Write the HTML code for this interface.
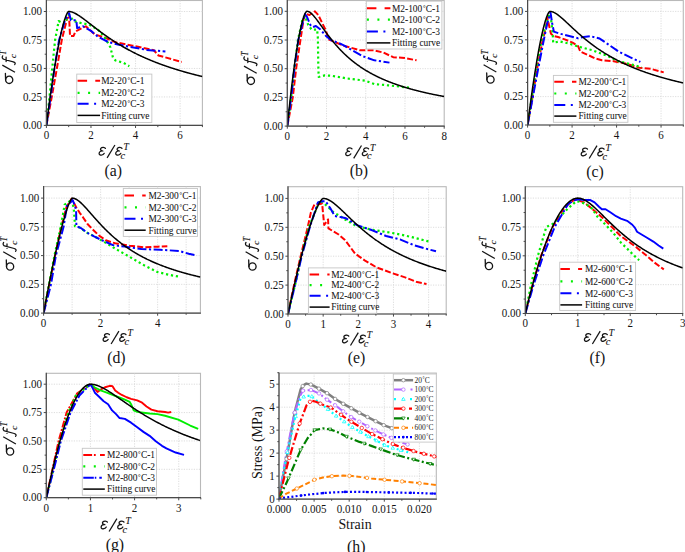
<!DOCTYPE html>
<html><head><meta charset="utf-8"><style>
html,body{margin:0;padding:0;background:#fff;overflow:hidden;}
svg{display:block;font-family:"Liberation Serif",serif;}
.t{font-size:11px;fill:#141414;}
.lg{font-size:9.4px;fill:#141414;stroke:#141414;stroke-width:0.05px;}
</style></head><body>
<svg width="685" height="552" viewBox="0 0 685 552">
<clipPath id="ca"><rect x="46.4" y="0.5" width="156" height="124.9"/></clipPath>
<rect x="46.4" y="0.5" width="156" height="124.9" fill="none" stroke="#b9b9b9" stroke-width="1.1"/>
<line x1="46.4" y1="96.93" x2="202.4" y2="96.93" stroke="#d4d4d4" stroke-width="0.8" stroke-dasharray="1.2 1.3"/>
<line x1="46.4" y1="68.45" x2="202.4" y2="68.45" stroke="#d4d4d4" stroke-width="0.8" stroke-dasharray="1.2 1.3"/>
<line x1="46.4" y1="39.97" x2="202.4" y2="39.97" stroke="#d4d4d4" stroke-width="0.8" stroke-dasharray="1.2 1.3"/>
<line x1="46.4" y1="11.5" x2="202.4" y2="11.5" stroke="#d4d4d4" stroke-width="0.8" stroke-dasharray="1.2 1.3"/>
<line x1="90.97" y1="0.5" x2="90.97" y2="125.4" stroke="#d4d4d4" stroke-width="0.8" stroke-dasharray="1.2 1.3"/>
<line x1="135.54" y1="0.5" x2="135.54" y2="125.4" stroke="#d4d4d4" stroke-width="0.8" stroke-dasharray="1.2 1.3"/>
<line x1="180.11" y1="0.5" x2="180.11" y2="125.4" stroke="#d4d4d4" stroke-width="0.8" stroke-dasharray="1.2 1.3"/>
<polyline points="46.4,125.4 51.75,96.93 56.87,68.45 61.78,39.97 67.13,18.33 69.13,17.2 70.02,35.99 73.59,35.99 75.37,31.55 82.28,28.02 85.85,26.31 94.54,34.28 105.01,37.7 115.49,42.25 132.65,45.67 153.82,50.23 158.5,55.47 181.67,61.96" fill="none" stroke="#ff0000" stroke-width="2.0" stroke-dasharray="6 2.2" stroke-linejoin="round" clip-path="url(#ca)"/>
<polyline points="46.4,125.4 49.52,96.93 52.19,68.45 55.09,39.97 58.66,21.07 64.01,23.8 69.13,14.92 73.59,21.07 80.5,22.89 89.19,24.6 98.1,29.72 105.01,37.7 110.36,47.26 113.03,57.86 115.49,60.48 123.29,62.75 129.3,66.17" fill="none" stroke="#00ee00" stroke-width="2.2" stroke-dasharray="2.2 2.8" stroke-linejoin="round" clip-path="url(#ca)"/>
<polyline points="46.4,125.4 50.63,96.93 54.42,68.45 59.1,39.97 64.9,20.61 69.13,13.21 70.91,20.16 76.26,20.16 77.15,28.02 83.17,26.31 90.97,30.86 98.1,36.9 108.58,42.14 119.05,44.76 146.69,49.88 165.41,51.48" fill="none" stroke="#0000ff" stroke-width="2.0" stroke-dasharray="9 2.5 2.2 2.5" stroke-linejoin="round" clip-path="url(#ca)"/>
<polyline points="46.4,125.4 46.85,121.89 47.29,118.42 47.74,114.98 48.18,111.59 48.63,108.24 49.07,104.93 49.52,101.66 49.97,98.43 50.41,95.24 50.86,92.1 51.3,88.99 51.75,85.94 52.19,82.92 52.64,79.95 53.09,77.03 53.53,74.15 53.98,71.32 54.42,68.53 54.87,65.79 55.31,63.1 55.76,60.46 56.21,57.87 56.65,55.33 57.1,52.84 57.54,50.4 57.99,48.01 58.43,45.68 58.88,43.41 59.33,41.19 59.77,39.02 60.22,36.92 60.66,34.88 61.11,32.9 61.55,30.98 62,29.12 62.45,27.34 62.89,25.62 63.34,23.97 63.78,22.4 64.23,20.9 64.67,19.48 65.12,18.15 65.57,16.91 66.01,15.76 66.46,14.71 66.9,13.77 67.35,12.95 67.79,12.28 68.24,11.76 68.69,11.5 69.13,11.51 69.58,11.55 70.02,11.6 70.47,11.67 70.91,11.77 71.36,11.88 71.81,12 72.25,12.15 72.7,12.3 73.14,12.47 73.59,12.66 74.03,12.85 74.48,13.06 74.93,13.28 75.37,13.51 75.82,13.74 76.26,13.99 76.71,14.24 77.15,14.51 77.6,14.77 78.05,15.05 78.49,15.33 78.94,15.62 79.38,15.91 79.83,16.21 80.27,16.52 80.72,16.82 81.17,17.14 81.61,17.45 82.06,17.77 82.5,18.09 82.95,18.42 83.39,18.75 83.84,19.08 84.29,19.41 84.73,19.75 85.18,20.08 85.62,20.42 86.07,20.76 86.51,21.1 86.96,21.45 87.41,21.79 87.85,22.13 88.3,22.48 88.74,22.83 89.19,23.17 89.63,23.52 90.08,23.87 90.53,24.21 90.97,24.56 91.42,24.91 91.86,25.25 92.31,25.6 92.75,25.94 93.2,26.29 93.65,26.64 94.09,26.98 94.54,27.32 94.98,27.67 95.43,28.01 95.87,28.35 96.32,28.69 96.77,29.03 97.21,29.37 97.66,29.71 98.1,30.05 98.55,30.38 98.99,30.72 99.44,31.05 99.89,31.39 100.33,31.72 100.78,32.05 101.22,32.38 101.67,32.7 102.11,33.03 102.56,33.36 103.01,33.68 103.45,34 103.9,34.32 104.34,34.64 104.79,34.96 105.23,35.28 105.68,35.6 106.13,35.91 106.57,36.22 107.02,36.53 107.46,36.84 107.91,37.15 108.35,37.46 108.8,37.76 109.25,38.07 109.69,38.37 110.14,38.67 110.58,38.97 111.03,39.27 111.47,39.57 111.92,39.86 112.37,40.15 112.81,40.45 113.26,40.74 113.7,41.03 114.15,41.31 114.59,41.6 115.04,41.88 115.49,42.17 115.93,42.45 116.38,42.73 116.82,43.01 117.27,43.28 117.71,43.56 118.16,43.83 118.61,44.11 119.05,44.38 119.5,44.65 119.94,44.92 120.39,45.18 120.83,45.45 121.28,45.71 121.73,45.97 122.17,46.24 122.62,46.5 123.06,46.75 123.51,47.01 123.95,47.27 124.4,47.52 124.85,47.77 125.29,48.02 125.74,48.27 126.18,48.52 126.63,48.77 127.07,49.01 127.52,49.26 127.97,49.5 128.41,49.74 128.86,49.98 129.3,50.22 129.75,50.46 130.19,50.7 130.64,50.93 131.09,51.17 131.53,51.4 131.98,51.63 132.42,51.86 132.87,52.09 133.31,52.32 133.76,52.54 134.21,52.77 134.65,52.99 135.1,53.22 135.54,53.44 135.99,53.66 136.43,53.88 136.88,54.09 137.33,54.31 137.77,54.53 138.22,54.74 138.66,54.95 139.11,55.17 139.55,55.38 140,55.59 140.45,55.79 140.89,56 141.34,56.21 141.78,56.41 142.23,56.62 142.67,56.82 143.12,57.02 143.57,57.22 144.01,57.42 144.46,57.62 144.9,57.82 145.35,58.02 145.79,58.21 146.24,58.41 146.69,58.6 147.13,58.79 147.58,58.98 148.02,59.17 148.47,59.36 148.91,59.55 149.36,59.74 149.81,59.92 150.25,60.11 150.7,60.29 151.14,60.48 151.59,60.66 152.03,60.84 152.48,61.02 152.93,61.2 153.37,61.38 153.82,61.56 154.26,61.74 154.71,61.91 155.15,62.09 155.6,62.26 156.05,62.43 156.49,62.61 156.94,62.78 157.38,62.95 157.83,63.12 158.27,63.29 158.72,63.46 159.17,63.62 159.61,63.79 160.06,63.95 160.5,64.12 160.95,64.28 161.39,64.45 161.84,64.61 162.29,64.77 162.73,64.93 163.18,65.09 163.62,65.25 164.07,65.41 164.51,65.56 164.96,65.72 165.41,65.88 165.85,66.03 166.3,66.19 166.74,66.34 167.19,66.49 167.63,66.65 168.08,66.8 168.53,66.95 168.97,67.1 169.42,67.25 169.86,67.39 170.31,67.54 170.75,67.69 171.2,67.84 171.65,67.98 172.09,68.13 172.54,68.27 172.98,68.41 173.43,68.56 173.87,68.7 174.32,68.84 174.77,68.98 175.21,69.12 175.66,69.26 176.1,69.4 176.55,69.54 176.99,69.67 177.44,69.81 177.89,69.95 178.33,70.08 178.78,70.22 179.22,70.35 179.67,70.49 180.11,70.62 180.56,70.75 181.01,70.88 181.45,71.01 181.9,71.14 182.34,71.27 182.79,71.4 183.23,71.53 183.68,71.66 184.13,71.79 184.57,71.92 185.02,72.04 185.46,72.17 185.91,72.29 186.35,72.42 186.8,72.54 187.25,72.67 187.69,72.79 188.14,72.91 188.58,73.03 189.03,73.15 189.47,73.27 189.92,73.4 190.37,73.51 190.81,73.63 191.26,73.75 191.7,73.87 192.15,73.99 192.59,74.11 193.04,74.22 193.49,74.34 193.93,74.45 194.38,74.57 194.82,74.68 195.27,74.8 195.71,74.91 196.16,75.02 196.61,75.14 197.05,75.25 197.5,75.36 197.94,75.47 198.39,75.58 198.83,75.69 199.28,75.8 199.73,75.91 200.17,76.02 200.62,76.13 201.06,76.24 201.51,76.34 201.95,76.45 202.4,76.56" fill="none" stroke="#000000" stroke-width="1.5" stroke-linejoin="round" clip-path="url(#ca)"/>
<line x1="46.4" y1="0" x2="46.4" y2="126" stroke="#4a4a4a" stroke-width="1.2"/>
<line x1="45.8" y1="125.4" x2="202.9" y2="125.4" stroke="#4a4a4a" stroke-width="1.2"/>
<line x1="43.8" y1="125.4" x2="46.4" y2="125.4" stroke="#4a4a4a" stroke-width="1"/>
<text transform="translate(42.1,129.1) scale(1,1.07)" text-anchor="end" class="t">0.00</text>
<line x1="43.8" y1="96.93" x2="46.4" y2="96.93" stroke="#4a4a4a" stroke-width="1"/>
<text transform="translate(42.1,100.63) scale(1,1.07)" text-anchor="end" class="t">0.25</text>
<line x1="43.8" y1="68.45" x2="46.4" y2="68.45" stroke="#4a4a4a" stroke-width="1"/>
<text transform="translate(42.1,72.15) scale(1,1.07)" text-anchor="end" class="t">0.50</text>
<line x1="43.8" y1="39.97" x2="46.4" y2="39.97" stroke="#4a4a4a" stroke-width="1"/>
<text transform="translate(42.1,43.67) scale(1,1.07)" text-anchor="end" class="t">0.75</text>
<line x1="43.8" y1="11.5" x2="46.4" y2="11.5" stroke="#4a4a4a" stroke-width="1"/>
<text transform="translate(42.1,15.2) scale(1,1.07)" text-anchor="end" class="t">1.00</text>
<line x1="44.7" y1="111.16" x2="46.4" y2="111.16" stroke="#4a4a4a" stroke-width="1"/>
<line x1="44.7" y1="82.69" x2="46.4" y2="82.69" stroke="#4a4a4a" stroke-width="1"/>
<line x1="44.7" y1="54.21" x2="46.4" y2="54.21" stroke="#4a4a4a" stroke-width="1"/>
<line x1="44.7" y1="25.74" x2="46.4" y2="25.74" stroke="#4a4a4a" stroke-width="1"/>
<line x1="46.4" y1="125.4" x2="46.4" y2="128" stroke="#4a4a4a" stroke-width="1"/>
<text transform="translate(46.4,139.3) scale(1,1.07)" text-anchor="middle" class="t">0</text>
<line x1="90.97" y1="125.4" x2="90.97" y2="128" stroke="#4a4a4a" stroke-width="1"/>
<text transform="translate(90.97,139.3) scale(1,1.07)" text-anchor="middle" class="t">2</text>
<line x1="135.54" y1="125.4" x2="135.54" y2="128" stroke="#4a4a4a" stroke-width="1"/>
<text transform="translate(135.54,139.3) scale(1,1.07)" text-anchor="middle" class="t">4</text>
<line x1="180.11" y1="125.4" x2="180.11" y2="128" stroke="#4a4a4a" stroke-width="1"/>
<text transform="translate(180.11,139.3) scale(1,1.07)" text-anchor="middle" class="t">6</text>
<line x1="68.69" y1="125.4" x2="68.69" y2="127.1" stroke="#4a4a4a" stroke-width="1"/>
<line x1="113.26" y1="125.4" x2="113.26" y2="127.1" stroke="#4a4a4a" stroke-width="1"/>
<line x1="157.83" y1="125.4" x2="157.83" y2="127.1" stroke="#4a4a4a" stroke-width="1"/>
<line x1="202.4" y1="125.4" x2="202.4" y2="127.1" stroke="#4a4a4a" stroke-width="1"/>
<rect x="76.75" y="74.1" width="75.1" height="48.4" fill="#ffffff" stroke="#c6c6c6" stroke-width="0.9"/>
<polyline points="77.6,80.8 100.1,80.8" fill="none" stroke="#ff0000" stroke-width="2.0" stroke-dasharray="9.5 8.2" stroke-linejoin="round"/>
<text transform="translate(101.2,84.1) scale(1,1.08)" class="lg">M2-20<tspan font-size="6.58" dy="-1.79" dx="0.66">°</tspan><tspan dy="1.79" dx="0.28">C-1</tspan></text>
<polyline points="77.6,92.8 100.1,92.8" fill="none" stroke="#00ee00" stroke-width="2.2" stroke-dasharray="2 8.5" stroke-linejoin="round"/>
<text transform="translate(101.2,96.1) scale(1,1.08)" class="lg">M2-20<tspan font-size="6.58" dy="-1.79" dx="0.66">°</tspan><tspan dy="1.79" dx="0.28">C-2</tspan></text>
<polyline points="77.6,103.8 100.1,103.8" fill="none" stroke="#0000ff" stroke-width="2.0" stroke-dasharray="11 5.5 2 5" stroke-linejoin="round"/>
<text transform="translate(101.2,107.1) scale(1,1.08)" class="lg">M2-20<tspan font-size="6.58" dy="-1.79" dx="0.66">°</tspan><tspan dy="1.79" dx="0.28">C-3</tspan></text>
<polyline points="77.6,115.4 100.1,115.4" fill="none" stroke="#000000" stroke-width="1.5" stroke-linejoin="round"/>
<text transform="translate(101.2,118.7) scale(1,1.08)" class="lg">Fitting curve</text>
<g transform="translate(98.4,155.2)"><path transform="translate(0,0)" d="M7.0,-6.8 C6.4,-8.0 3.6,-8.3 2.4,-6.9 C1.6,-5.9 2.2,-4.4 4.5,-4.2 M3.6,-4.2 C1.8,-4.0 0.7,-3.0 0.7,-1.7 C0.7,-0.3 2.2,0.2 3.4,-0.2 C4.4,-0.5 5.2,-1.1 5.8,-1.9" fill="none" stroke="#141414" stroke-width="1.25" stroke-linecap="round"/><line x1="8.7" y1="2.6" x2="16.5" y2="-10.2" stroke="#141414" stroke-width="1.25"/><path transform="translate(16.6,0)" d="M7.0,-6.8 C6.4,-8.0 3.6,-8.3 2.4,-6.9 C1.6,-5.9 2.2,-4.4 4.5,-4.2 M3.6,-4.2 C1.8,-4.0 0.7,-3.0 0.7,-1.7 C0.7,-0.3 2.2,0.2 3.4,-0.2 C4.4,-0.5 5.2,-1.1 5.8,-1.9" fill="none" stroke="#141414" stroke-width="1.25" stroke-linecap="round"/><text transform="translate(21.99,3.6) scale(0.996,1)" font-size="10.42" font-style="italic" fill="#141414" stroke="#141414" stroke-width="0.12">c</text><text transform="translate(24.99,-5.2) scale(0.968,1)" font-size="9.77" font-style="italic" fill="#141414" stroke="#141414" stroke-width="0.12">T</text></g>
<g transform="translate(13.1,84.2) rotate(-90)"><ellipse cx="4.4" cy="-3.9" rx="3.7" ry="3.6" fill="none" stroke="#141414" stroke-width="1.3"/><path d="M4.4,-7.5 L10.9,-7.7" fill="none" stroke="#141414" stroke-width="1.3" stroke-linecap="round"/><line x1="11.9" y1="1.9" x2="19.1" y2="-10.8" stroke="#141414" stroke-width="1.25"/><path d="M19.6,1.6 C20.8,2.8 21.9,1.8 22.4,0.2 L24.7,-8.6 C25.3,-10.8 27.0,-11.5 28.4,-10.4 M22.6,-7.0 L27.0,-7.0" fill="none" stroke="#141414" stroke-width="1.25" stroke-linecap="round"/><text transform="translate(25.9,2.71) scale(1.077,1)" font-size="9.17" font-style="italic" fill="#141414" stroke="#141414" stroke-width="0.12">c</text><text transform="translate(29.28,-6.8) scale(0.819,1)" font-size="9.77" font-style="italic" fill="#141414" stroke="#141414" stroke-width="0.12">T</text></g>
<text x="113.25" y="176.2" text-anchor="middle" font-size="15.8" fill="#141414">(a)</text>
<clipPath id="cb"><rect x="287.3" y="0.5" width="156.9" height="125.6"/></clipPath>
<rect x="287.3" y="0.5" width="156.9" height="125.6" fill="none" stroke="#b9b9b9" stroke-width="1.1"/>
<line x1="287.3" y1="97.4" x2="444.2" y2="97.4" stroke="#d4d4d4" stroke-width="0.8" stroke-dasharray="1.2 1.3"/>
<line x1="287.3" y1="68.7" x2="444.2" y2="68.7" stroke="#d4d4d4" stroke-width="0.8" stroke-dasharray="1.2 1.3"/>
<line x1="287.3" y1="40" x2="444.2" y2="40" stroke="#d4d4d4" stroke-width="0.8" stroke-dasharray="1.2 1.3"/>
<line x1="287.3" y1="11.3" x2="444.2" y2="11.3" stroke="#d4d4d4" stroke-width="0.8" stroke-dasharray="1.2 1.3"/>
<line x1="326.52" y1="0.5" x2="326.52" y2="126.1" stroke="#d4d4d4" stroke-width="0.8" stroke-dasharray="1.2 1.3"/>
<line x1="365.75" y1="0.5" x2="365.75" y2="126.1" stroke="#d4d4d4" stroke-width="0.8" stroke-dasharray="1.2 1.3"/>
<line x1="404.98" y1="0.5" x2="404.98" y2="126.1" stroke="#d4d4d4" stroke-width="0.8" stroke-dasharray="1.2 1.3"/>
<polyline points="287.3,126.1 292.79,97.4 296.13,68.7 300.44,40 303.77,18.19 305.93,13.94 309.46,14.97 314.95,11.3 318.29,14.97 322.6,23.93 325.94,30.47 328.29,39.31 343.78,45.74 360.06,50.33 374.38,50.33 383.6,52.63 393.21,57.22 404.78,58.02 416.55,60.32" fill="none" stroke="#ff0000" stroke-width="2.0" stroke-dasharray="6 2.2" stroke-linejoin="round" clip-path="url(#cb)"/>
<polyline points="287.3,126.1 291.22,97.4 294.36,68.7 297.89,40 302.79,18.19 304.95,15.89 308.29,25.08 311.62,29.67 317.11,29.67 317.9,38.28 318.29,64.8 318.68,76.97 324.76,75.36 331.62,75.82 342.61,77.65 346.14,78.34 364.77,80.64 374.38,84.08 388.3,85.35 409.49,87.64" fill="none" stroke="#00ee00" stroke-width="2.2" stroke-dasharray="2.2 2.8" stroke-linejoin="round" clip-path="url(#cb)"/>
<polyline points="287.3,126.1 291.22,97.4 294.36,68.7 298.28,40 304.95,13.94 307.11,17.15 310.44,25.08 312.8,27.14 315.93,25.99 320.45,29.44 325.94,35.98 331.62,40.34 340.25,43.67 344.76,45.97 362.61,56.19 374.38,60.32 389.48,62.62" fill="none" stroke="#0000ff" stroke-width="2.0" stroke-dasharray="9 2.5 2.2 2.5" stroke-linejoin="round" clip-path="url(#cb)"/>
<polyline points="287.3,126.1 287.69,122.29 288.08,118.53 288.48,114.83 288.87,111.18 289.26,107.58 289.65,104.03 290.05,100.54 290.44,97.1 290.83,93.72 291.22,90.39 291.61,87.11 292.01,83.89 292.4,80.73 292.79,77.63 293.18,74.58 293.58,71.59 293.97,68.66 294.36,65.78 294.75,62.97 295.14,60.22 295.54,57.52 295.93,54.89 296.32,52.32 296.71,49.82 297.11,47.38 297.5,45 297.89,42.69 298.28,40.44 298.68,38.26 299.07,36.15 299.46,34.11 299.85,32.14 300.24,30.25 300.64,28.42 301.03,26.67 301.42,25 301.81,23.4 302.21,21.89 302.6,20.46 302.99,19.11 303.38,17.85 303.77,16.68 304.17,15.61 304.56,14.63 304.95,13.75 305.34,12.99 305.74,12.35 306.13,11.83 306.52,11.47 306.91,11.3 307.3,11.32 307.7,11.38 308.09,11.48 308.48,11.62 308.87,11.79 309.27,11.99 309.66,12.22 310.05,12.48 310.44,12.76 310.84,13.07 311.23,13.4 311.62,13.75 312.01,14.12 312.4,14.51 312.8,14.92 313.19,15.34 313.58,15.77 313.97,16.22 314.37,16.68 314.76,17.15 315.15,17.63 315.54,18.12 315.93,18.62 316.33,19.13 316.72,19.64 317.11,20.16 317.5,20.68 317.9,21.21 318.29,21.74 318.68,22.28 319.07,22.82 319.46,23.36 319.86,23.9 320.25,24.45 320.64,25 321.03,25.54 321.43,26.09 321.82,26.64 322.21,27.19 322.6,27.74 322.99,28.28 323.39,28.83 323.78,29.38 324.17,29.92 324.56,30.46 324.96,31 325.35,31.54 325.74,32.08 326.13,32.61 326.52,33.14 326.92,33.67 327.31,34.2 327.7,34.72 328.09,35.25 328.49,35.76 328.88,36.28 329.27,36.79 329.66,37.3 330.06,37.81 330.45,38.31 330.84,38.81 331.23,39.3 331.62,39.79 332.02,40.28 332.41,40.77 332.8,41.25 333.19,41.73 333.59,42.2 333.98,42.67 334.37,43.14 334.76,43.61 335.15,44.07 335.55,44.52 335.94,44.98 336.33,45.43 336.72,45.87 337.12,46.31 337.51,46.75 337.9,47.19 338.29,47.62 338.68,48.05 339.08,48.47 339.47,48.89 339.86,49.31 340.25,49.72 340.65,50.13 341.04,50.54 341.43,50.94 341.82,51.34 342.22,51.74 342.61,52.13 343,52.52 343.39,52.91 343.78,53.29 344.18,53.67 344.57,54.05 344.96,54.42 345.35,54.79 345.75,55.16 346.14,55.53 346.53,55.89 346.92,56.25 347.31,56.6 347.71,56.95 348.1,57.3 348.49,57.65 348.88,57.99 349.28,58.33 349.67,58.67 350.06,59 350.45,59.33 350.84,59.66 351.24,59.99 351.63,60.31 352.02,60.63 352.41,60.95 352.81,61.26 353.2,61.57 353.59,61.88 353.98,62.19 354.37,62.49 354.77,62.79 355.16,63.09 355.55,63.39 355.94,63.68 356.34,63.98 356.73,64.27 357.12,64.55 357.51,64.84 357.9,65.12 358.3,65.4 358.69,65.68 359.08,65.95 359.47,66.22 359.87,66.5 360.26,66.76 360.65,67.03 361.04,67.29 361.44,67.56 361.83,67.82 362.22,68.07 362.61,68.33 363,68.58 363.4,68.84 363.79,69.09 364.18,69.33 364.57,69.58 364.97,69.82 365.36,70.06 365.75,70.3 366.14,70.54 366.53,70.78 366.93,71.01 367.32,71.25 367.71,71.48 368.1,71.7 368.5,71.93 368.89,72.16 369.28,72.38 369.67,72.6 370.06,72.82 370.46,73.04 370.85,73.26 371.24,73.47 371.63,73.69 372.03,73.9 372.42,74.11 372.81,74.32 373.2,74.53 373.6,74.73 373.99,74.94 374.38,75.14 374.77,75.34 375.16,75.54 375.56,75.74 375.95,75.93 376.34,76.13 376.73,76.32 377.13,76.52 377.52,76.71 377.91,76.9 378.3,77.08 378.69,77.27 379.09,77.46 379.48,77.64 379.87,77.82 380.26,78.01 380.66,78.19 381.05,78.36 381.44,78.54 381.83,78.72 382.22,78.89 382.62,79.07 383.01,79.24 383.4,79.41 383.79,79.58 384.19,79.75 384.58,79.92 384.97,80.09 385.36,80.25 385.75,80.42 386.15,80.58 386.54,80.74 386.93,80.91 387.32,81.07 387.72,81.22 388.11,81.38 388.5,81.54 388.89,81.7 389.28,81.85 389.68,82 390.07,82.16 390.46,82.31 390.85,82.46 391.25,82.61 391.64,82.76 392.03,82.91 392.42,83.05 392.82,83.2 393.21,83.34 393.6,83.49 393.99,83.63 394.38,83.77 394.78,83.92 395.17,84.06 395.56,84.2 395.95,84.33 396.35,84.47 396.74,84.61 397.13,84.74 397.52,84.88 397.91,85.01 398.31,85.15 398.7,85.28 399.09,85.41 399.48,85.54 399.88,85.67 400.27,85.8 400.66,85.93 401.05,86.06 401.44,86.19 401.84,86.31 402.23,86.44 402.62,86.56 403.01,86.69 403.41,86.81 403.8,86.93 404.19,87.05 404.58,87.17 404.98,87.29 405.37,87.41 405.76,87.53 406.15,87.65 406.54,87.77 406.94,87.88 407.33,88 407.72,88.12 408.11,88.23 408.51,88.34 408.9,88.46 409.29,88.57 409.68,88.68 410.07,88.79 410.47,88.91 410.86,89.02 411.25,89.12 411.64,89.23 412.04,89.34 412.43,89.45 412.82,89.56 413.21,89.66 413.6,89.77 414,89.87 414.39,89.98 414.78,90.08 415.17,90.19 415.57,90.29 415.96,90.39 416.35,90.49 416.74,90.59 417.13,90.69 417.53,90.79 417.92,90.89 418.31,90.99 418.7,91.09 419.1,91.19 419.49,91.29 419.88,91.38 420.27,91.48 420.66,91.57 421.06,91.67 421.45,91.76 421.84,91.86 422.23,91.95 422.63,92.05 423.02,92.14 423.41,92.23 423.8,92.32 424.2,92.41 424.59,92.5 424.98,92.59 425.37,92.68 425.76,92.77 426.16,92.86 426.55,92.95 426.94,93.04 427.33,93.13 427.73,93.21 428.12,93.3 428.51,93.39 428.9,93.47 429.29,93.56 429.69,93.64 430.08,93.73 430.47,93.81 430.86,93.89 431.26,93.98 431.65,94.06 432.04,94.14 432.43,94.22 432.82,94.31 433.22,94.39 433.61,94.47 434,94.55 434.39,94.63 434.79,94.71 435.18,94.79 435.57,94.87 435.96,94.94 436.36,95.02 436.75,95.1 437.14,95.18 437.53,95.25 437.92,95.33 438.32,95.41 438.71,95.48 439.1,95.56 439.49,95.63 439.89,95.71 440.28,95.78 440.67,95.85 441.06,95.93 441.45,96 441.85,96.07 442.24,96.15 442.63,96.22 443.02,96.29 443.42,96.36 443.81,96.43 444.2,96.5" fill="none" stroke="#000000" stroke-width="1.5" stroke-linejoin="round" clip-path="url(#cb)"/>
<line x1="287.3" y1="0" x2="287.3" y2="126.7" stroke="#4a4a4a" stroke-width="1.2"/>
<line x1="286.7" y1="126.1" x2="444.7" y2="126.1" stroke="#4a4a4a" stroke-width="1.2"/>
<line x1="284.7" y1="126.1" x2="287.3" y2="126.1" stroke="#4a4a4a" stroke-width="1"/>
<text transform="translate(283,129.8) scale(1,1.07)" text-anchor="end" class="t">0.00</text>
<line x1="284.7" y1="97.4" x2="287.3" y2="97.4" stroke="#4a4a4a" stroke-width="1"/>
<text transform="translate(283,101.1) scale(1,1.07)" text-anchor="end" class="t">0.25</text>
<line x1="284.7" y1="68.7" x2="287.3" y2="68.7" stroke="#4a4a4a" stroke-width="1"/>
<text transform="translate(283,72.4) scale(1,1.07)" text-anchor="end" class="t">0.50</text>
<line x1="284.7" y1="40" x2="287.3" y2="40" stroke="#4a4a4a" stroke-width="1"/>
<text transform="translate(283,43.7) scale(1,1.07)" text-anchor="end" class="t">0.75</text>
<line x1="284.7" y1="11.3" x2="287.3" y2="11.3" stroke="#4a4a4a" stroke-width="1"/>
<text transform="translate(283,15) scale(1,1.07)" text-anchor="end" class="t">1.00</text>
<line x1="285.6" y1="111.75" x2="287.3" y2="111.75" stroke="#4a4a4a" stroke-width="1"/>
<line x1="285.6" y1="83.05" x2="287.3" y2="83.05" stroke="#4a4a4a" stroke-width="1"/>
<line x1="285.6" y1="54.35" x2="287.3" y2="54.35" stroke="#4a4a4a" stroke-width="1"/>
<line x1="285.6" y1="25.65" x2="287.3" y2="25.65" stroke="#4a4a4a" stroke-width="1"/>
<line x1="287.3" y1="126.1" x2="287.3" y2="128.7" stroke="#4a4a4a" stroke-width="1"/>
<text transform="translate(287.3,140) scale(1,1.07)" text-anchor="middle" class="t">0</text>
<line x1="326.52" y1="126.1" x2="326.52" y2="128.7" stroke="#4a4a4a" stroke-width="1"/>
<text transform="translate(326.52,140) scale(1,1.07)" text-anchor="middle" class="t">2</text>
<line x1="365.75" y1="126.1" x2="365.75" y2="128.7" stroke="#4a4a4a" stroke-width="1"/>
<text transform="translate(365.75,140) scale(1,1.07)" text-anchor="middle" class="t">4</text>
<line x1="404.98" y1="126.1" x2="404.98" y2="128.7" stroke="#4a4a4a" stroke-width="1"/>
<text transform="translate(404.98,140) scale(1,1.07)" text-anchor="middle" class="t">6</text>
<line x1="444.2" y1="126.1" x2="444.2" y2="128.7" stroke="#4a4a4a" stroke-width="1"/>
<text transform="translate(444.2,140) scale(1,1.07)" text-anchor="middle" class="t">8</text>
<line x1="306.91" y1="126.1" x2="306.91" y2="127.8" stroke="#4a4a4a" stroke-width="1"/>
<line x1="346.14" y1="126.1" x2="346.14" y2="127.8" stroke="#4a4a4a" stroke-width="1"/>
<line x1="385.36" y1="126.1" x2="385.36" y2="127.8" stroke="#4a4a4a" stroke-width="1"/>
<line x1="424.59" y1="126.1" x2="424.59" y2="127.8" stroke="#4a4a4a" stroke-width="1"/>
<rect x="366.3" y="1.2" width="75.6" height="47.8" fill="#ffffff" stroke="#c6c6c6" stroke-width="0.9"/>
<polyline points="366.9,8.3 390.4,8.3" fill="none" stroke="#ff0000" stroke-width="2.0" stroke-dasharray="9.5 8.2" stroke-linejoin="round"/>
<text transform="translate(392,11.6) scale(1,1.08)" class="lg">M2-100<tspan font-size="6.58" dy="-1.79" dx="0.66">°</tspan><tspan dy="1.79" dx="0.28">C-1</tspan></text>
<polyline points="366.9,19.6 390.4,19.6" fill="none" stroke="#00ee00" stroke-width="2.2" stroke-dasharray="2 8.5" stroke-linejoin="round"/>
<text transform="translate(392,22.9) scale(1,1.08)" class="lg">M2-100<tspan font-size="6.58" dy="-1.79" dx="0.66">°</tspan><tspan dy="1.79" dx="0.28">C-2</tspan></text>
<polyline points="366.9,31.5 390.4,31.5" fill="none" stroke="#0000ff" stroke-width="2.0" stroke-dasharray="11 5.5 2 5" stroke-linejoin="round"/>
<text transform="translate(392,34.8) scale(1,1.08)" class="lg">M2-100<tspan font-size="6.58" dy="-1.79" dx="0.66">°</tspan><tspan dy="1.79" dx="0.28">C-3</tspan></text>
<polyline points="366.9,42.9 390.4,42.9" fill="none" stroke="#000000" stroke-width="1.5" stroke-linejoin="round"/>
<text transform="translate(392,46.2) scale(1,1.08)" class="lg">Fitting curve</text>
<g transform="translate(345,155.7)"><path transform="translate(0,0)" d="M7.0,-6.8 C6.4,-8.0 3.6,-8.3 2.4,-6.9 C1.6,-5.9 2.2,-4.4 4.5,-4.2 M3.6,-4.2 C1.8,-4.0 0.7,-3.0 0.7,-1.7 C0.7,-0.3 2.2,0.2 3.4,-0.2 C4.4,-0.5 5.2,-1.1 5.8,-1.9" fill="none" stroke="#141414" stroke-width="1.25" stroke-linecap="round"/><line x1="8.7" y1="2.6" x2="16.5" y2="-10.2" stroke="#141414" stroke-width="1.25"/><path transform="translate(16.6,0)" d="M7.0,-6.8 C6.4,-8.0 3.6,-8.3 2.4,-6.9 C1.6,-5.9 2.2,-4.4 4.5,-4.2 M3.6,-4.2 C1.8,-4.0 0.7,-3.0 0.7,-1.7 C0.7,-0.3 2.2,0.2 3.4,-0.2 C4.4,-0.5 5.2,-1.1 5.8,-1.9" fill="none" stroke="#141414" stroke-width="1.25" stroke-linecap="round"/><text transform="translate(21.99,3.6) scale(0.996,1)" font-size="10.42" font-style="italic" fill="#141414" stroke="#141414" stroke-width="0.12">c</text><text transform="translate(24.99,-5.2) scale(0.968,1)" font-size="9.77" font-style="italic" fill="#141414" stroke="#141414" stroke-width="0.12">T</text></g>
<g transform="translate(254.8,85.2) rotate(-90)"><ellipse cx="4.4" cy="-3.9" rx="3.7" ry="3.6" fill="none" stroke="#141414" stroke-width="1.3"/><path d="M4.4,-7.5 L10.9,-7.7" fill="none" stroke="#141414" stroke-width="1.3" stroke-linecap="round"/><line x1="11.9" y1="1.9" x2="19.1" y2="-10.8" stroke="#141414" stroke-width="1.25"/><path d="M19.6,1.6 C20.8,2.8 21.9,1.8 22.4,0.2 L24.7,-8.6 C25.3,-10.8 27.0,-11.5 28.4,-10.4 M22.6,-7.0 L27.0,-7.0" fill="none" stroke="#141414" stroke-width="1.25" stroke-linecap="round"/><text transform="translate(25.9,2.71) scale(1.077,1)" font-size="9.17" font-style="italic" fill="#141414" stroke="#141414" stroke-width="0.12">c</text><text transform="translate(29.28,-6.8) scale(0.819,1)" font-size="9.77" font-style="italic" fill="#141414" stroke="#141414" stroke-width="0.12">T</text></g>
<text x="358.9" y="176.3" text-anchor="middle" font-size="15.8" fill="#141414">(b)</text>
<clipPath id="cc"><rect x="527.6" y="0.5" width="155.7" height="124.5"/></clipPath>
<rect x="527.6" y="0.5" width="155.7" height="124.5" fill="none" stroke="#b9b9b9" stroke-width="1.1"/>
<line x1="527.6" y1="96.6" x2="683.3" y2="96.6" stroke="#d4d4d4" stroke-width="0.8" stroke-dasharray="1.2 1.3"/>
<line x1="527.6" y1="68.2" x2="683.3" y2="68.2" stroke="#d4d4d4" stroke-width="0.8" stroke-dasharray="1.2 1.3"/>
<line x1="527.6" y1="39.8" x2="683.3" y2="39.8" stroke="#d4d4d4" stroke-width="0.8" stroke-dasharray="1.2 1.3"/>
<line x1="527.6" y1="11.4" x2="683.3" y2="11.4" stroke="#d4d4d4" stroke-width="0.8" stroke-dasharray="1.2 1.3"/>
<line x1="572.09" y1="0.5" x2="572.09" y2="125" stroke="#d4d4d4" stroke-width="0.8" stroke-dasharray="1.2 1.3"/>
<line x1="616.57" y1="0.5" x2="616.57" y2="125" stroke="#d4d4d4" stroke-width="0.8" stroke-dasharray="1.2 1.3"/>
<line x1="661.06" y1="0.5" x2="661.06" y2="125" stroke="#d4d4d4" stroke-width="0.8" stroke-dasharray="1.2 1.3"/>
<polyline points="527.6,125 532.05,100.01 537.16,68.2 542.73,39.8 546.06,27.08 547.17,17.19 550.96,33.78 553.85,36.05 558.07,37.07 564.75,39.35 572.53,42.64 578.09,46.05 580.32,51.5 587.88,54.91 595,58.43 601.89,60.25 613.68,61.16 625.25,63.54 639.26,67.75 650.83,68.88 663.73,72.4" fill="none" stroke="#ff0000" stroke-width="2.0" stroke-dasharray="6 2.2" stroke-linejoin="round" clip-path="url(#cc)"/>
<polyline points="527.6,125 536.5,68.2 541.61,39.8 549.4,13.9 550.96,18.22 552.73,33.78 553.18,42.64 560.3,41.5 569.19,43.66 580.32,47.07 592.55,50.25 606.56,55.59 618.35,61.16 627.69,63.54 641.71,67.29" fill="none" stroke="#00ee00" stroke-width="2.2" stroke-dasharray="2.2 2.8" stroke-linejoin="round" clip-path="url(#cc)"/>
<polyline points="527.6,125 538.28,68.2 543.84,39.8 547.17,23.78 550.51,12.65 552.07,22.76 553.85,31.62 560.3,33.78 569.19,36.05 578.09,38.21 583.65,37.07 590.32,36.16 599.67,38.55 606.56,43.21 618.35,51.39 629.92,57.18 640.37,61.95" fill="none" stroke="#0000ff" stroke-width="2.0" stroke-dasharray="9 2.5 2.2 2.5" stroke-linejoin="round" clip-path="url(#cc)"/>
<polyline points="527.6,125 528.04,121.5 528.49,118.03 528.93,114.61 529.38,111.23 529.82,107.88 530.27,104.58 530.71,101.32 531.16,98.1 531.6,94.92 532.05,91.78 532.49,88.69 532.94,85.64 533.38,82.63 533.83,79.67 534.27,76.76 534.72,73.88 535.16,71.06 535.61,68.28 536.05,65.55 536.5,62.87 536.94,60.23 537.39,57.65 537.83,55.11 538.28,52.63 538.72,50.2 539.17,47.82 539.61,45.49 540.06,43.22 540.5,41.01 540.95,38.85 541.39,36.75 541.84,34.72 542.28,32.74 542.73,30.82 543.17,28.98 543.61,27.19 544.06,25.48 544.5,23.84 544.95,22.27 545.39,20.78 545.84,19.36 546.28,18.03 546.73,16.79 547.17,15.65 547.62,14.6 548.06,13.67 548.51,12.85 548.95,12.17 549.4,11.66 549.84,11.4 550.29,11.41 550.73,11.46 551.18,11.53 551.62,11.62 552.07,11.74 552.51,11.88 552.96,12.04 553.4,12.22 553.85,12.42 554.29,12.64 554.74,12.87 555.18,13.12 555.63,13.38 556.07,13.66 556.52,13.94 556.96,14.24 557.41,14.55 557.85,14.87 558.3,15.2 558.74,15.54 559.18,15.89 559.63,16.24 560.07,16.6 560.52,16.97 560.96,17.34 561.41,17.72 561.85,18.1 562.3,18.49 562.74,18.88 563.19,19.27 563.63,19.67 564.08,20.07 564.52,20.48 564.97,20.89 565.41,21.29 565.86,21.7 566.3,22.12 566.75,22.53 567.19,22.95 567.64,23.36 568.08,23.78 568.53,24.2 568.97,24.61 569.42,25.03 569.86,25.45 570.31,25.87 570.75,26.28 571.2,26.7 571.64,27.12 572.09,27.53 572.53,27.95 572.98,28.36 573.42,28.77 573.87,29.18 574.31,29.6 574.75,30 575.2,30.41 575.64,30.82 576.09,31.23 576.53,31.63 576.98,32.03 577.42,32.43 577.87,32.83 578.31,33.23 578.76,33.62 579.2,34.02 579.65,34.41 580.09,34.8 580.54,35.19 580.98,35.57 581.43,35.96 581.87,36.34 582.32,36.72 582.76,37.1 583.21,37.47 583.65,37.85 584.1,38.22 584.54,38.59 584.99,38.96 585.43,39.32 585.88,39.69 586.32,40.05 586.77,40.41 587.21,40.76 587.66,41.12 588.1,41.47 588.55,41.82 588.99,42.17 589.44,42.52 589.88,42.86 590.32,43.2 590.77,43.54 591.21,43.88 591.66,44.22 592.1,44.55 592.55,44.88 592.99,45.21 593.44,45.54 593.88,45.86 594.33,46.18 594.77,46.5 595.22,46.82 595.66,47.14 596.11,47.45 596.55,47.77 597,48.08 597.44,48.39 597.89,48.69 598.33,49 598.78,49.3 599.22,49.6 599.67,49.9 600.11,50.19 600.56,50.49 601,50.78 601.45,51.07 601.89,51.36 602.34,51.65 602.78,51.93 603.23,52.21 603.67,52.5 604.12,52.77 604.56,53.05 605.01,53.33 605.45,53.6 605.89,53.87 606.34,54.14 606.78,54.41 607.23,54.68 607.67,54.94 608.12,55.21 608.56,55.47 609.01,55.73 609.45,55.99 609.9,56.24 610.34,56.5 610.79,56.75 611.23,57 611.68,57.25 612.12,57.5 612.57,57.74 613.01,57.99 613.46,58.23 613.9,58.47 614.35,58.71 614.79,58.95 615.24,59.19 615.68,59.42 616.13,59.66 616.57,59.89 617.02,60.12 617.46,60.35 617.91,60.58 618.35,60.8 618.8,61.03 619.24,61.25 619.69,61.48 620.13,61.7 620.58,61.92 621.02,62.13 621.46,62.35 621.91,62.57 622.35,62.78 622.8,62.99 623.24,63.2 623.69,63.41 624.13,63.62 624.58,63.83 625.02,64.03 625.47,64.24 625.91,64.44 626.36,64.64 626.8,64.85 627.25,65.05 627.69,65.24 628.14,65.44 628.58,65.64 629.03,65.83 629.47,66.03 629.92,66.22 630.36,66.41 630.81,66.6 631.25,66.79 631.7,66.98 632.14,67.16 632.59,67.35 633.03,67.53 633.48,67.72 633.92,67.9 634.37,68.08 634.81,68.26 635.26,68.44 635.7,68.62 636.15,68.79 636.59,68.97 637.03,69.14 637.48,69.32 637.92,69.49 638.37,69.66 638.81,69.83 639.26,70 639.7,70.17 640.15,70.34 640.59,70.51 641.04,70.67 641.48,70.84 641.93,71 642.37,71.16 642.82,71.33 643.26,71.49 643.71,71.65 644.15,71.81 644.6,71.97 645.04,72.12 645.49,72.28 645.93,72.44 646.38,72.59 646.82,72.74 647.27,72.9 647.71,73.05 648.16,73.2 648.6,73.35 649.05,73.5 649.49,73.65 649.94,73.8 650.38,73.95 650.83,74.09 651.27,74.24 651.72,74.38 652.16,74.53 652.6,74.67 653.05,74.81 653.49,74.95 653.94,75.1 654.38,75.24 654.83,75.38 655.27,75.51 655.72,75.65 656.16,75.79 656.61,75.93 657.05,76.06 657.5,76.2 657.94,76.33 658.39,76.46 658.83,76.6 659.28,76.73 659.72,76.86 660.17,76.99 660.61,77.12 661.06,77.25 661.5,77.38 661.95,77.51 662.39,77.64 662.84,77.76 663.28,77.89 663.73,78.02 664.17,78.14 664.62,78.26 665.06,78.39 665.51,78.51 665.95,78.63 666.4,78.76 666.84,78.88 667.29,79 667.73,79.12 668.17,79.24 668.62,79.35 669.06,79.47 669.51,79.59 669.95,79.71 670.4,79.82 670.84,79.94 671.29,80.05 671.73,80.17 672.18,80.28 672.62,80.4 673.07,80.51 673.51,80.62 673.96,80.73 674.4,80.84 674.85,80.96 675.29,81.07 675.74,81.18 676.18,81.28 676.63,81.39 677.07,81.5 677.52,81.61 677.96,81.72 678.41,81.82 678.85,81.93 679.3,82.03 679.74,82.14 680.19,82.24 680.63,82.35 681.08,82.45 681.52,82.55 681.97,82.66 682.41,82.76 682.86,82.86 683.3,82.96" fill="none" stroke="#000000" stroke-width="1.5" stroke-linejoin="round" clip-path="url(#cc)"/>
<line x1="527.6" y1="0" x2="527.6" y2="125.6" stroke="#4a4a4a" stroke-width="1.2"/>
<line x1="527" y1="125" x2="683.8" y2="125" stroke="#4a4a4a" stroke-width="1.2"/>
<line x1="525" y1="125" x2="527.6" y2="125" stroke="#4a4a4a" stroke-width="1"/>
<text transform="translate(523.3,128.7) scale(1,1.07)" text-anchor="end" class="t">0.00</text>
<line x1="525" y1="96.6" x2="527.6" y2="96.6" stroke="#4a4a4a" stroke-width="1"/>
<text transform="translate(523.3,100.3) scale(1,1.07)" text-anchor="end" class="t">0.25</text>
<line x1="525" y1="68.2" x2="527.6" y2="68.2" stroke="#4a4a4a" stroke-width="1"/>
<text transform="translate(523.3,71.9) scale(1,1.07)" text-anchor="end" class="t">0.50</text>
<line x1="525" y1="39.8" x2="527.6" y2="39.8" stroke="#4a4a4a" stroke-width="1"/>
<text transform="translate(523.3,43.5) scale(1,1.07)" text-anchor="end" class="t">0.75</text>
<line x1="525" y1="11.4" x2="527.6" y2="11.4" stroke="#4a4a4a" stroke-width="1"/>
<text transform="translate(523.3,15.1) scale(1,1.07)" text-anchor="end" class="t">1.00</text>
<line x1="525.9" y1="110.8" x2="527.6" y2="110.8" stroke="#4a4a4a" stroke-width="1"/>
<line x1="525.9" y1="82.4" x2="527.6" y2="82.4" stroke="#4a4a4a" stroke-width="1"/>
<line x1="525.9" y1="54" x2="527.6" y2="54" stroke="#4a4a4a" stroke-width="1"/>
<line x1="525.9" y1="25.6" x2="527.6" y2="25.6" stroke="#4a4a4a" stroke-width="1"/>
<line x1="527.6" y1="125" x2="527.6" y2="127.6" stroke="#4a4a4a" stroke-width="1"/>
<text transform="translate(527.6,138.9) scale(1,1.07)" text-anchor="middle" class="t">0</text>
<line x1="572.09" y1="125" x2="572.09" y2="127.6" stroke="#4a4a4a" stroke-width="1"/>
<text transform="translate(572.09,138.9) scale(1,1.07)" text-anchor="middle" class="t">2</text>
<line x1="616.57" y1="125" x2="616.57" y2="127.6" stroke="#4a4a4a" stroke-width="1"/>
<text transform="translate(616.57,138.9) scale(1,1.07)" text-anchor="middle" class="t">4</text>
<line x1="661.06" y1="125" x2="661.06" y2="127.6" stroke="#4a4a4a" stroke-width="1"/>
<text transform="translate(661.06,138.9) scale(1,1.07)" text-anchor="middle" class="t">6</text>
<line x1="549.84" y1="125" x2="549.84" y2="126.7" stroke="#4a4a4a" stroke-width="1"/>
<line x1="594.33" y1="125" x2="594.33" y2="126.7" stroke="#4a4a4a" stroke-width="1"/>
<line x1="638.81" y1="125" x2="638.81" y2="126.7" stroke="#4a4a4a" stroke-width="1"/>
<line x1="683.3" y1="125" x2="683.3" y2="126.7" stroke="#4a4a4a" stroke-width="1"/>
<rect x="553.4" y="75.4" width="74.5" height="46.9" fill="#ffffff" stroke="#c6c6c6" stroke-width="0.9"/>
<polyline points="554.3,81.8 576.4,81.8" fill="none" stroke="#ff0000" stroke-width="2.0" stroke-dasharray="9.5 8.2" stroke-linejoin="round"/>
<text transform="translate(578.4,85.1) scale(1,1.08)" class="lg">M2-200<tspan font-size="6.58" dy="-1.79" dx="0.66">°</tspan><tspan dy="1.79" dx="0.28">C-1</tspan></text>
<polyline points="554.3,93.5 576.4,93.5" fill="none" stroke="#00ee00" stroke-width="2.2" stroke-dasharray="2 8.5" stroke-linejoin="round"/>
<text transform="translate(578.4,96.8) scale(1,1.08)" class="lg">M2-200<tspan font-size="6.58" dy="-1.79" dx="0.66">°</tspan><tspan dy="1.79" dx="0.28">C-2</tspan></text>
<polyline points="554.3,104.9 576.4,104.9" fill="none" stroke="#0000ff" stroke-width="2.0" stroke-dasharray="11 5.5 2 5" stroke-linejoin="round"/>
<text transform="translate(578.4,108.2) scale(1,1.08)" class="lg">M2-200<tspan font-size="6.58" dy="-1.79" dx="0.66">°</tspan><tspan dy="1.79" dx="0.28">C-3</tspan></text>
<polyline points="554.3,116.1 576.4,116.1" fill="none" stroke="#000000" stroke-width="1.5" stroke-linejoin="round"/>
<text transform="translate(578.4,119.4) scale(1,1.08)" class="lg">Fitting curve</text>
<g transform="translate(580.5,155.9)"><path transform="translate(0,0)" d="M7.0,-6.8 C6.4,-8.0 3.6,-8.3 2.4,-6.9 C1.6,-5.9 2.2,-4.4 4.5,-4.2 M3.6,-4.2 C1.8,-4.0 0.7,-3.0 0.7,-1.7 C0.7,-0.3 2.2,0.2 3.4,-0.2 C4.4,-0.5 5.2,-1.1 5.8,-1.9" fill="none" stroke="#141414" stroke-width="1.25" stroke-linecap="round"/><line x1="8.7" y1="2.6" x2="16.5" y2="-10.2" stroke="#141414" stroke-width="1.25"/><path transform="translate(16.6,0)" d="M7.0,-6.8 C6.4,-8.0 3.6,-8.3 2.4,-6.9 C1.6,-5.9 2.2,-4.4 4.5,-4.2 M3.6,-4.2 C1.8,-4.0 0.7,-3.0 0.7,-1.7 C0.7,-0.3 2.2,0.2 3.4,-0.2 C4.4,-0.5 5.2,-1.1 5.8,-1.9" fill="none" stroke="#141414" stroke-width="1.25" stroke-linecap="round"/><text transform="translate(21.99,3.6) scale(0.996,1)" font-size="10.42" font-style="italic" fill="#141414" stroke="#141414" stroke-width="0.12">c</text><text transform="translate(24.99,-5.2) scale(0.968,1)" font-size="9.77" font-style="italic" fill="#141414" stroke="#141414" stroke-width="0.12">T</text></g>
<g transform="translate(494.4,83.9) rotate(-90)"><ellipse cx="4.4" cy="-3.9" rx="3.7" ry="3.6" fill="none" stroke="#141414" stroke-width="1.3"/><path d="M4.4,-7.5 L10.9,-7.7" fill="none" stroke="#141414" stroke-width="1.3" stroke-linecap="round"/><line x1="11.9" y1="1.9" x2="19.1" y2="-10.8" stroke="#141414" stroke-width="1.25"/><path d="M19.6,1.6 C20.8,2.8 21.9,1.8 22.4,0.2 L24.7,-8.6 C25.3,-10.8 27.0,-11.5 28.4,-10.4 M22.6,-7.0 L27.0,-7.0" fill="none" stroke="#141414" stroke-width="1.25" stroke-linecap="round"/><text transform="translate(25.9,2.71) scale(1.077,1)" font-size="9.17" font-style="italic" fill="#141414" stroke="#141414" stroke-width="0.12">c</text><text transform="translate(29.28,-6.8) scale(0.819,1)" font-size="9.77" font-style="italic" fill="#141414" stroke="#141414" stroke-width="0.12">T</text></g>
<text x="594.9" y="176.8" text-anchor="middle" font-size="15.8" fill="#141414">(c)</text>
<clipPath id="cd"><rect x="43.6" y="186.6" width="156.8" height="126.5"/></clipPath>
<rect x="43.6" y="186.6" width="156.8" height="126.5" fill="none" stroke="#b9b9b9" stroke-width="1.1"/>
<line x1="43.6" y1="284.35" x2="200.4" y2="284.35" stroke="#d4d4d4" stroke-width="0.8" stroke-dasharray="1.2 1.3"/>
<line x1="43.6" y1="255.6" x2="200.4" y2="255.6" stroke="#d4d4d4" stroke-width="0.8" stroke-dasharray="1.2 1.3"/>
<line x1="43.6" y1="226.85" x2="200.4" y2="226.85" stroke="#d4d4d4" stroke-width="0.8" stroke-dasharray="1.2 1.3"/>
<line x1="43.6" y1="198.1" x2="200.4" y2="198.1" stroke="#d4d4d4" stroke-width="0.8" stroke-dasharray="1.2 1.3"/>
<line x1="72.11" y1="186.6" x2="72.11" y2="313.1" stroke="#d4d4d4" stroke-width="0.8" stroke-dasharray="1.2 1.3"/>
<line x1="100.62" y1="186.6" x2="100.62" y2="313.1" stroke="#d4d4d4" stroke-width="0.8" stroke-dasharray="1.2 1.3"/>
<line x1="129.13" y1="186.6" x2="129.13" y2="313.1" stroke="#d4d4d4" stroke-width="0.8" stroke-dasharray="1.2 1.3"/>
<line x1="157.64" y1="186.6" x2="157.64" y2="313.1" stroke="#d4d4d4" stroke-width="0.8" stroke-dasharray="1.2 1.3"/>
<line x1="186.15" y1="186.6" x2="186.15" y2="313.1" stroke="#d4d4d4" stroke-width="0.8" stroke-dasharray="1.2 1.3"/>
<polyline points="43.6,313.1 49.3,284.35 55,255.6 61.28,226.85 66.41,207.3 71.54,198.68 76.1,206.95 79.52,212.59 82.94,217.19 87.5,223.97 91.78,228.46 98.62,235.25 105.75,240.31 115.16,243.3 129.41,245.71 143.67,247.32 157.92,246.63 167.33,246.17" fill="none" stroke="#ff0000" stroke-width="2.0" stroke-dasharray="6 2.2" stroke-linejoin="round" clip-path="url(#cd)"/>
<polyline points="43.6,313.1 49.02,284.35 54.43,255.6 60.71,226.85 64.7,204.66 68.12,202.47 71.82,199.25 73.82,209.14 74.39,217.19 74.96,226.16 79.52,227.43 87.5,232.94 96.34,237.43 103.47,241.45 115.16,248.58 129.41,256.75 143.67,265.03 157.92,272.16 169.61,274.92 180.44,276.88" fill="none" stroke="#00ee00" stroke-width="2.2" stroke-dasharray="2.2 2.8" stroke-linejoin="round" clip-path="url(#cd)"/>
<polyline points="43.6,313.1 51.01,284.35 55.86,255.6 63.56,226.85 66.98,205.81 70.4,202.47 72.68,200.17 74.96,205.81 76.1,210.41 76.39,226.16 81.52,228.46 87.5,232.94 94.06,236.39 100.9,239.73 112.88,245.13 124.85,246.63 141.39,249.05 160.2,249.74 179.3,251 188.71,253.76 194.7,255.14" fill="none" stroke="#0000ff" stroke-width="2.0" stroke-dasharray="9 2.5 2.2 2.5" stroke-linejoin="round" clip-path="url(#cd)"/>
<polyline points="43.6,313.1 44.17,309.98 44.74,306.89 45.31,303.82 45.88,300.77 46.45,297.75 47.02,294.75 47.59,291.77 48.16,288.82 48.73,285.9 49.3,283 49.87,280.13 50.44,277.28 51.01,274.46 51.58,271.66 52.15,268.9 52.72,266.16 53.29,263.45 53.86,260.78 54.43,258.13 55,255.51 55.57,252.92 56.14,250.37 56.71,247.85 57.28,245.36 57.85,242.9 58.42,240.48 58.99,238.1 59.57,235.75 60.14,233.44 60.71,231.17 61.28,228.95 61.85,226.76 62.42,224.62 62.99,222.52 63.56,220.47 64.13,218.46 64.7,216.51 65.27,214.61 65.84,212.77 66.41,210.99 66.98,209.27 67.55,207.61 68.12,206.03 68.69,204.53 69.26,203.12 69.83,201.81 70.4,200.61 70.97,199.54 71.54,198.66 72.11,198.1 72.68,198.13 73.25,198.21 73.82,198.33 74.39,198.5 74.96,198.72 75.53,198.97 76.1,199.26 76.67,199.59 77.24,199.95 77.81,200.34 78.38,200.75 78.95,201.19 79.52,201.66 80.09,202.14 80.66,202.65 81.23,203.17 81.8,203.71 82.37,204.27 82.94,204.84 83.51,205.42 84.08,206.02 84.65,206.62 85.22,207.23 85.79,207.85 86.36,208.48 86.93,209.11 87.5,209.74 88.07,210.39 88.64,211.03 89.21,211.68 89.78,212.33 90.35,212.98 90.93,213.63 91.5,214.28 92.07,214.94 92.64,215.59 93.21,216.24 93.78,216.89 94.35,217.54 94.92,218.18 95.49,218.82 96.06,219.46 96.63,220.1 97.2,220.74 97.77,221.37 98.34,222 98.91,222.62 99.48,223.24 100.05,223.86 100.62,224.47 101.19,225.08 101.76,225.68 102.33,226.28 102.9,226.87 103.47,227.46 104.04,228.04 104.61,228.62 105.18,229.2 105.75,229.77 106.32,230.33 106.89,230.89 107.46,231.45 108.03,232 108.6,232.54 109.17,233.08 109.74,233.62 110.31,234.15 110.88,234.67 111.45,235.19 112.02,235.71 112.59,236.22 113.16,236.72 113.73,237.22 114.3,237.72 114.87,238.21 115.44,238.69 116.01,239.17 116.58,239.65 117.15,240.12 117.72,240.58 118.29,241.04 118.86,241.5 119.43,241.95 120,242.4 120.57,242.84 121.14,243.28 121.71,243.72 122.29,244.15 122.86,244.57 123.43,244.99 124,245.41 124.57,245.82 125.14,246.23 125.71,246.63 126.28,247.03 126.85,247.43 127.42,247.82 127.99,248.21 128.56,248.59 129.13,248.97 129.7,249.35 130.27,249.72 130.84,250.09 131.41,250.46 131.98,250.82 132.55,251.18 133.12,251.53 133.69,251.88 134.26,252.23 134.83,252.57 135.4,252.91 135.97,253.25 136.54,253.58 137.11,253.91 137.68,254.24 138.25,254.56 138.82,254.89 139.39,255.2 139.96,255.52 140.53,255.83 141.1,256.14 141.67,256.44 142.24,256.75 142.81,257.05 143.38,257.34 143.95,257.64 144.52,257.93 145.09,258.22 145.66,258.5 146.23,258.78 146.8,259.07 147.37,259.34 147.94,259.62 148.51,259.89 149.08,260.16 149.65,260.43 150.22,260.69 150.79,260.96 151.36,261.22 151.93,261.47 152.5,261.73 153.07,261.98 153.65,262.23 154.22,262.48 154.79,262.73 155.36,262.97 155.93,263.22 156.5,263.46 157.07,263.69 157.64,263.93 158.21,264.16 158.78,264.39 159.35,264.62 159.92,264.85 160.49,265.08 161.06,265.3 161.63,265.52 162.2,265.74 162.77,265.96 163.34,266.17 163.91,266.39 164.48,266.6 165.05,266.81 165.62,267.02 166.19,267.23 166.76,267.43 167.33,267.63 167.9,267.84 168.47,268.04 169.04,268.23 169.61,268.43 170.18,268.63 170.75,268.82 171.32,269.01 171.89,269.2 172.46,269.39 173.03,269.58 173.6,269.76 174.17,269.95 174.74,270.13 175.31,270.31 175.88,270.49 176.45,270.67 177.02,270.85 177.59,271.02 178.16,271.2 178.73,271.37 179.3,271.54 179.87,271.71 180.44,271.88 181.01,272.05 181.58,272.21 182.15,272.38 182.72,272.54 183.29,272.71 183.86,272.87 184.43,273.03 185.01,273.19 185.58,273.34 186.15,273.5 186.72,273.65 187.29,273.81 187.86,273.96 188.43,274.11 189,274.26 189.57,274.41 190.14,274.56 190.71,274.71 191.28,274.86 191.85,275 192.42,275.14 192.99,275.29 193.56,275.43 194.13,275.57 194.7,275.71 195.27,275.85 195.84,275.99 196.41,276.12 196.98,276.26 197.55,276.4 198.12,276.53 198.69,276.66 199.26,276.8 199.83,276.93 200.4,277.06" fill="none" stroke="#000000" stroke-width="1.5" stroke-linejoin="round" clip-path="url(#cd)"/>
<line x1="43.6" y1="186.1" x2="43.6" y2="313.7" stroke="#4a4a4a" stroke-width="1.2"/>
<line x1="43" y1="313.1" x2="200.9" y2="313.1" stroke="#4a4a4a" stroke-width="1.2"/>
<line x1="41" y1="313.1" x2="43.6" y2="313.1" stroke="#4a4a4a" stroke-width="1"/>
<text transform="translate(39.3,316.8) scale(1,1.07)" text-anchor="end" class="t">0.00</text>
<line x1="41" y1="284.35" x2="43.6" y2="284.35" stroke="#4a4a4a" stroke-width="1"/>
<text transform="translate(39.3,288.05) scale(1,1.07)" text-anchor="end" class="t">0.25</text>
<line x1="41" y1="255.6" x2="43.6" y2="255.6" stroke="#4a4a4a" stroke-width="1"/>
<text transform="translate(39.3,259.3) scale(1,1.07)" text-anchor="end" class="t">0.50</text>
<line x1="41" y1="226.85" x2="43.6" y2="226.85" stroke="#4a4a4a" stroke-width="1"/>
<text transform="translate(39.3,230.55) scale(1,1.07)" text-anchor="end" class="t">0.75</text>
<line x1="41" y1="198.1" x2="43.6" y2="198.1" stroke="#4a4a4a" stroke-width="1"/>
<text transform="translate(39.3,201.8) scale(1,1.07)" text-anchor="end" class="t">1.00</text>
<line x1="41.9" y1="298.73" x2="43.6" y2="298.73" stroke="#4a4a4a" stroke-width="1"/>
<line x1="41.9" y1="269.98" x2="43.6" y2="269.98" stroke="#4a4a4a" stroke-width="1"/>
<line x1="41.9" y1="241.23" x2="43.6" y2="241.23" stroke="#4a4a4a" stroke-width="1"/>
<line x1="41.9" y1="212.47" x2="43.6" y2="212.47" stroke="#4a4a4a" stroke-width="1"/>
<line x1="43.6" y1="313.1" x2="43.6" y2="315.7" stroke="#4a4a4a" stroke-width="1"/>
<text transform="translate(43.6,327) scale(1,1.07)" text-anchor="middle" class="t">0</text>
<line x1="100.62" y1="313.1" x2="100.62" y2="315.7" stroke="#4a4a4a" stroke-width="1"/>
<text transform="translate(100.62,327) scale(1,1.07)" text-anchor="middle" class="t">2</text>
<line x1="157.64" y1="313.1" x2="157.64" y2="315.7" stroke="#4a4a4a" stroke-width="1"/>
<text transform="translate(157.64,327) scale(1,1.07)" text-anchor="middle" class="t">4</text>
<line x1="72.11" y1="313.1" x2="72.11" y2="314.8" stroke="#4a4a4a" stroke-width="1"/>
<line x1="129.13" y1="313.1" x2="129.13" y2="314.8" stroke="#4a4a4a" stroke-width="1"/>
<line x1="186.15" y1="313.1" x2="186.15" y2="314.8" stroke="#4a4a4a" stroke-width="1"/>
<rect x="123.3" y="188.5" width="74.2" height="47.9" fill="#ffffff" stroke="#c6c6c6" stroke-width="0.9"/>
<polyline points="124.5,195.6 145.7,195.6" fill="none" stroke="#ff0000" stroke-width="2.0" stroke-dasharray="9.5 8.2" stroke-linejoin="round"/>
<text transform="translate(148.5,198.9) scale(1,1.08)" class="lg">M2-300<tspan font-size="6.58" dy="-1.79" dx="0.66">°</tspan><tspan dy="1.79" dx="0.28">C-1</tspan></text>
<polyline points="124.5,207.4 145.7,207.4" fill="none" stroke="#00ee00" stroke-width="2.2" stroke-dasharray="2 8.5" stroke-linejoin="round"/>
<text transform="translate(148.5,210.7) scale(1,1.08)" class="lg">M2-300<tspan font-size="6.58" dy="-1.79" dx="0.66">°</tspan><tspan dy="1.79" dx="0.28">C-2</tspan></text>
<polyline points="124.5,218.7 145.7,218.7" fill="none" stroke="#0000ff" stroke-width="2.0" stroke-dasharray="11 5.5 2 5" stroke-linejoin="round"/>
<text transform="translate(148.5,222) scale(1,1.08)" class="lg">M2-300<tspan font-size="6.58" dy="-1.79" dx="0.66">°</tspan><tspan dy="1.79" dx="0.28">C-3</tspan></text>
<polyline points="124.5,230.2 145.7,230.2" fill="none" stroke="#000000" stroke-width="1.5" stroke-linejoin="round"/>
<text transform="translate(148.5,233.5) scale(1,1.08)" class="lg">Fitting curve</text>
<g transform="translate(102.4,341.4)"><path transform="translate(0,0)" d="M7.0,-6.8 C6.4,-8.0 3.6,-8.3 2.4,-6.9 C1.6,-5.9 2.2,-4.4 4.5,-4.2 M3.6,-4.2 C1.8,-4.0 0.7,-3.0 0.7,-1.7 C0.7,-0.3 2.2,0.2 3.4,-0.2 C4.4,-0.5 5.2,-1.1 5.8,-1.9" fill="none" stroke="#141414" stroke-width="1.25" stroke-linecap="round"/><line x1="8.7" y1="2.6" x2="16.5" y2="-10.2" stroke="#141414" stroke-width="1.25"/><path transform="translate(16.6,0)" d="M7.0,-6.8 C6.4,-8.0 3.6,-8.3 2.4,-6.9 C1.6,-5.9 2.2,-4.4 4.5,-4.2 M3.6,-4.2 C1.8,-4.0 0.7,-3.0 0.7,-1.7 C0.7,-0.3 2.2,0.2 3.4,-0.2 C4.4,-0.5 5.2,-1.1 5.8,-1.9" fill="none" stroke="#141414" stroke-width="1.25" stroke-linecap="round"/><text transform="translate(21.99,3.6) scale(0.996,1)" font-size="10.42" font-style="italic" fill="#141414" stroke="#141414" stroke-width="0.12">c</text><text transform="translate(24.99,-5.2) scale(0.968,1)" font-size="9.77" font-style="italic" fill="#141414" stroke="#141414" stroke-width="0.12">T</text></g>
<g transform="translate(14,270.9) rotate(-90)"><ellipse cx="4.4" cy="-3.9" rx="3.7" ry="3.6" fill="none" stroke="#141414" stroke-width="1.3"/><path d="M4.4,-7.5 L10.9,-7.7" fill="none" stroke="#141414" stroke-width="1.3" stroke-linecap="round"/><line x1="11.9" y1="1.9" x2="19.1" y2="-10.8" stroke="#141414" stroke-width="1.25"/><path d="M19.6,1.6 C20.8,2.8 21.9,1.8 22.4,0.2 L24.7,-8.6 C25.3,-10.8 27.0,-11.5 28.4,-10.4 M22.6,-7.0 L27.0,-7.0" fill="none" stroke="#141414" stroke-width="1.25" stroke-linecap="round"/><text transform="translate(25.9,2.71) scale(1.077,1)" font-size="9.17" font-style="italic" fill="#141414" stroke="#141414" stroke-width="0.12">c</text><text transform="translate(29.28,-6.8) scale(0.819,1)" font-size="9.77" font-style="italic" fill="#141414" stroke="#141414" stroke-width="0.12">T</text></g>
<text x="116.4" y="362.8" text-anchor="middle" font-size="15.8" fill="#141414">(d)</text>
<clipPath id="ce"><rect x="288" y="186.7" width="158.2" height="127.3"/></clipPath>
<rect x="288" y="186.7" width="158.2" height="127.3" fill="none" stroke="#b9b9b9" stroke-width="1.1"/>
<line x1="288" y1="285.1" x2="446.2" y2="285.1" stroke="#d4d4d4" stroke-width="0.8" stroke-dasharray="1.2 1.3"/>
<line x1="288" y1="256.2" x2="446.2" y2="256.2" stroke="#d4d4d4" stroke-width="0.8" stroke-dasharray="1.2 1.3"/>
<line x1="288" y1="227.3" x2="446.2" y2="227.3" stroke="#d4d4d4" stroke-width="0.8" stroke-dasharray="1.2 1.3"/>
<line x1="288" y1="198.4" x2="446.2" y2="198.4" stroke="#d4d4d4" stroke-width="0.8" stroke-dasharray="1.2 1.3"/>
<line x1="323.16" y1="186.7" x2="323.16" y2="314" stroke="#d4d4d4" stroke-width="0.8" stroke-dasharray="1.2 1.3"/>
<line x1="358.31" y1="186.7" x2="358.31" y2="314" stroke="#d4d4d4" stroke-width="0.8" stroke-dasharray="1.2 1.3"/>
<line x1="393.47" y1="186.7" x2="393.47" y2="314" stroke="#d4d4d4" stroke-width="0.8" stroke-dasharray="1.2 1.3"/>
<line x1="428.62" y1="186.7" x2="428.62" y2="314" stroke="#d4d4d4" stroke-width="0.8" stroke-dasharray="1.2 1.3"/>
<polyline points="288,314 293.98,285.1 300.66,256.2 307.69,227.3 310.85,212.62 314.37,204.64 318.94,204.18 322.1,203.6 324.21,224.99 328.08,219.44 328.43,228.46 338.27,234.24 344.95,240.02 355.15,253.66 364.64,260.36 376.59,267.41 391.01,272.73 405.07,277.35 417.02,282.09 426.51,284.06" fill="none" stroke="#ff0000" stroke-width="2.0" stroke-dasharray="6 2.2" stroke-linejoin="round" clip-path="url(#ce)"/>
<polyline points="288,314 295.03,285.1 301.36,256.2 308.74,227.3 319.99,200.13 328.08,206.95 333.7,212.62 338.27,214.93 344.95,219.44 355.15,225.33 367.1,228.8 381.51,231.23 395.58,233.54 409.99,236.66 423,240.02 430.38,241.87" fill="none" stroke="#00ee00" stroke-width="2.2" stroke-dasharray="2.2 2.8" stroke-linejoin="round" clip-path="url(#ce)"/>
<polyline points="288,314 295.03,285.1 301.71,256.2 309.8,227.3 317.88,202.45 322.1,201.17 325.62,201.17 330.19,208.11 334.76,215.97 341.44,217.24 346.01,218.28 357.61,225.33 371.67,230.07 386.08,235.97 400.5,239.55 414.56,245.45 428.97,249.5 436,251.34" fill="none" stroke="#0000ff" stroke-width="2.0" stroke-dasharray="9 2.5 2.2 2.5" stroke-linejoin="round" clip-path="url(#ce)"/>
<polyline points="288,314 288.7,310.66 289.41,307.36 290.11,304.08 290.81,300.84 291.52,297.62 292.22,294.44 292.92,291.29 293.62,288.18 294.33,285.09 295.03,282.04 295.73,279.03 296.44,276.05 297.14,273.1 297.84,270.19 298.55,267.32 299.25,264.48 299.95,261.68 300.66,258.92 301.36,256.2 302.06,253.52 302.77,250.87 303.47,248.27 304.17,245.71 304.87,243.19 305.58,240.71 306.28,238.28 306.98,235.89 307.69,233.55 308.39,231.26 309.09,229.02 309.8,226.82 310.5,224.68 311.2,222.59 311.91,220.55 312.61,218.57 313.31,216.65 314.02,214.79 314.72,213 315.42,211.27 316.12,209.61 316.83,208.02 317.53,206.51 318.23,205.08 318.94,203.74 319.64,202.5 320.34,201.37 321.05,200.36 321.75,199.49 322.45,198.8 323.16,198.4 323.86,198.43 324.56,198.51 325.26,198.64 325.97,198.83 326.67,199.05 327.37,199.32 328.08,199.63 328.78,199.97 329.48,200.35 330.19,200.76 330.89,201.2 331.59,201.66 332.3,202.15 333,202.66 333.7,203.19 334.41,203.75 335.11,204.31 335.81,204.9 336.51,205.5 337.22,206.11 337.92,206.73 338.62,207.36 339.33,208 340.03,208.65 340.73,209.31 341.44,209.97 342.14,210.63 342.84,211.3 343.55,211.98 344.25,212.65 344.95,213.33 345.66,214.01 346.36,214.69 347.06,215.37 347.76,216.05 348.47,216.72 349.17,217.4 349.87,218.08 350.58,218.75 351.28,219.42 351.98,220.09 352.69,220.75 353.39,221.41 354.09,222.07 354.8,222.72 355.5,223.37 356.2,224.02 356.9,224.66 357.61,225.29 358.31,225.92 359.01,226.55 359.72,227.17 360.42,227.79 361.12,228.4 361.83,229.01 362.53,229.61 363.23,230.2 363.94,230.8 364.64,231.38 365.34,231.96 366.05,232.54 366.75,233.11 367.45,233.67 368.15,234.23 368.86,234.78 369.56,235.33 370.26,235.87 370.97,236.41 371.67,236.94 372.37,237.46 373.08,237.99 373.78,238.5 374.48,239.01 375.19,239.52 375.89,240.02 376.59,240.51 377.3,241 378,241.48 378.7,241.96 379.4,242.44 380.11,242.91 380.81,243.37 381.51,243.83 382.22,244.29 382.92,244.74 383.62,245.18 384.33,245.62 385.03,246.06 385.73,246.49 386.44,246.92 387.14,247.34 387.84,247.76 388.54,248.17 389.25,248.58 389.95,248.98 390.65,249.38 391.36,249.78 392.06,250.17 392.76,250.56 393.47,250.95 394.17,251.33 394.87,251.7 395.58,252.07 396.28,252.44 396.98,252.81 397.69,253.17 398.39,253.53 399.09,253.88 399.79,254.23 400.5,254.58 401.2,254.92 401.9,255.26 402.61,255.59 403.31,255.93 404.01,256.25 404.72,256.58 405.42,256.9 406.12,257.22 406.83,257.54 407.53,257.85 408.23,258.16 408.94,258.47 409.64,258.77 410.34,259.07 411.04,259.37 411.75,259.67 412.45,259.96 413.15,260.25 413.86,260.53 414.56,260.82 415.26,261.1 415.97,261.38 416.67,261.65 417.37,261.92 418.08,262.19 418.78,262.46 419.48,262.73 420.18,262.99 420.89,263.25 421.59,263.51 422.29,263.76 423,264.02 423.7,264.27 424.4,264.52 425.11,264.76 425.81,265.01 426.51,265.25 427.22,265.49 427.92,265.72 428.62,265.96 429.33,266.19 430.03,266.42 430.73,266.65 431.43,266.88 432.14,267.1 432.84,267.32 433.54,267.55 434.25,267.76 434.95,267.98 435.65,268.2 436.36,268.41 437.06,268.62 437.76,268.83 438.47,269.04 439.17,269.24 439.87,269.45 440.58,269.65 441.28,269.85 441.98,270.05 442.68,270.25 443.39,270.44 444.09,270.64 444.79,270.83 445.5,271.02 446.2,271.21" fill="none" stroke="#000000" stroke-width="1.5" stroke-linejoin="round" clip-path="url(#ce)"/>
<line x1="288" y1="186.2" x2="288" y2="314.6" stroke="#4a4a4a" stroke-width="1.2"/>
<line x1="287.4" y1="314" x2="446.7" y2="314" stroke="#4a4a4a" stroke-width="1.2"/>
<line x1="285.4" y1="314" x2="288" y2="314" stroke="#4a4a4a" stroke-width="1"/>
<text transform="translate(283.7,317.7) scale(1,1.07)" text-anchor="end" class="t">0.00</text>
<line x1="285.4" y1="285.1" x2="288" y2="285.1" stroke="#4a4a4a" stroke-width="1"/>
<text transform="translate(283.7,288.8) scale(1,1.07)" text-anchor="end" class="t">0.25</text>
<line x1="285.4" y1="256.2" x2="288" y2="256.2" stroke="#4a4a4a" stroke-width="1"/>
<text transform="translate(283.7,259.9) scale(1,1.07)" text-anchor="end" class="t">0.50</text>
<line x1="285.4" y1="227.3" x2="288" y2="227.3" stroke="#4a4a4a" stroke-width="1"/>
<text transform="translate(283.7,231) scale(1,1.07)" text-anchor="end" class="t">0.75</text>
<line x1="285.4" y1="198.4" x2="288" y2="198.4" stroke="#4a4a4a" stroke-width="1"/>
<text transform="translate(283.7,202.1) scale(1,1.07)" text-anchor="end" class="t">1.00</text>
<line x1="286.3" y1="299.55" x2="288" y2="299.55" stroke="#4a4a4a" stroke-width="1"/>
<line x1="286.3" y1="270.65" x2="288" y2="270.65" stroke="#4a4a4a" stroke-width="1"/>
<line x1="286.3" y1="241.75" x2="288" y2="241.75" stroke="#4a4a4a" stroke-width="1"/>
<line x1="286.3" y1="212.85" x2="288" y2="212.85" stroke="#4a4a4a" stroke-width="1"/>
<line x1="288" y1="314" x2="288" y2="316.6" stroke="#4a4a4a" stroke-width="1"/>
<text transform="translate(288,327.9) scale(1,1.07)" text-anchor="middle" class="t">0</text>
<line x1="323.16" y1="314" x2="323.16" y2="316.6" stroke="#4a4a4a" stroke-width="1"/>
<text transform="translate(323.16,327.9) scale(1,1.07)" text-anchor="middle" class="t">1</text>
<line x1="358.31" y1="314" x2="358.31" y2="316.6" stroke="#4a4a4a" stroke-width="1"/>
<text transform="translate(358.31,327.9) scale(1,1.07)" text-anchor="middle" class="t">2</text>
<line x1="393.47" y1="314" x2="393.47" y2="316.6" stroke="#4a4a4a" stroke-width="1"/>
<text transform="translate(393.47,327.9) scale(1,1.07)" text-anchor="middle" class="t">3</text>
<line x1="428.62" y1="314" x2="428.62" y2="316.6" stroke="#4a4a4a" stroke-width="1"/>
<text transform="translate(428.62,327.9) scale(1,1.07)" text-anchor="middle" class="t">4</text>
<line x1="305.58" y1="314" x2="305.58" y2="315.7" stroke="#4a4a4a" stroke-width="1"/>
<line x1="340.73" y1="314" x2="340.73" y2="315.7" stroke="#4a4a4a" stroke-width="1"/>
<line x1="375.89" y1="314" x2="375.89" y2="315.7" stroke="#4a4a4a" stroke-width="1"/>
<line x1="411.04" y1="314" x2="411.04" y2="315.7" stroke="#4a4a4a" stroke-width="1"/>
<line x1="446.2" y1="314" x2="446.2" y2="315.7" stroke="#4a4a4a" stroke-width="1"/>
<rect x="308.4" y="267.9" width="68.3" height="45.4" fill="#ffffff" stroke="#c6c6c6" stroke-width="0.9"/>
<polyline points="309.6,274.5 329.6,274.5" fill="none" stroke="#ff0000" stroke-width="2.0" stroke-dasharray="9.5 8.2" stroke-linejoin="round"/>
<text transform="translate(331.2,277.8) scale(1,1.08)" class="lg">M2-400<tspan font-size="6.58" dy="-1.79" dx="0.66">°</tspan><tspan dy="1.79" dx="0.28">C-1</tspan></text>
<polyline points="309.6,285.1 329.6,285.1" fill="none" stroke="#00ee00" stroke-width="2.2" stroke-dasharray="2 8.5" stroke-linejoin="round"/>
<text transform="translate(331.2,288.4) scale(1,1.08)" class="lg">M2-400<tspan font-size="6.58" dy="-1.79" dx="0.66">°</tspan><tspan dy="1.79" dx="0.28">C-2</tspan></text>
<polyline points="309.6,295.7 329.6,295.7" fill="none" stroke="#0000ff" stroke-width="2.0" stroke-dasharray="11 5.5 2 5" stroke-linejoin="round"/>
<text transform="translate(331.2,299) scale(1,1.08)" class="lg">M2-400<tspan font-size="6.58" dy="-1.79" dx="0.66">°</tspan><tspan dy="1.79" dx="0.28">C-3</tspan></text>
<polyline points="309.6,307.1 329.6,307.1" fill="none" stroke="#000000" stroke-width="1.5" stroke-linejoin="round"/>
<text transform="translate(331.2,310.4) scale(1,1.08)" class="lg">Fitting curve</text>
<g transform="translate(341.8,342.9)"><path transform="translate(0,0)" d="M7.0,-6.8 C6.4,-8.0 3.6,-8.3 2.4,-6.9 C1.6,-5.9 2.2,-4.4 4.5,-4.2 M3.6,-4.2 C1.8,-4.0 0.7,-3.0 0.7,-1.7 C0.7,-0.3 2.2,0.2 3.4,-0.2 C4.4,-0.5 5.2,-1.1 5.8,-1.9" fill="none" stroke="#141414" stroke-width="1.25" stroke-linecap="round"/><line x1="8.7" y1="2.6" x2="16.5" y2="-10.2" stroke="#141414" stroke-width="1.25"/><path transform="translate(16.6,0)" d="M7.0,-6.8 C6.4,-8.0 3.6,-8.3 2.4,-6.9 C1.6,-5.9 2.2,-4.4 4.5,-4.2 M3.6,-4.2 C1.8,-4.0 0.7,-3.0 0.7,-1.7 C0.7,-0.3 2.2,0.2 3.4,-0.2 C4.4,-0.5 5.2,-1.1 5.8,-1.9" fill="none" stroke="#141414" stroke-width="1.25" stroke-linecap="round"/><text transform="translate(21.99,3.6) scale(0.996,1)" font-size="10.42" font-style="italic" fill="#141414" stroke="#141414" stroke-width="0.12">c</text><text transform="translate(24.99,-5.2) scale(0.968,1)" font-size="9.77" font-style="italic" fill="#141414" stroke="#141414" stroke-width="0.12">T</text></g>
<g transform="translate(256.4,270.9) rotate(-90)"><ellipse cx="4.4" cy="-3.9" rx="3.7" ry="3.6" fill="none" stroke="#141414" stroke-width="1.3"/><path d="M4.4,-7.5 L10.9,-7.7" fill="none" stroke="#141414" stroke-width="1.3" stroke-linecap="round"/><line x1="11.9" y1="1.9" x2="19.1" y2="-10.8" stroke="#141414" stroke-width="1.25"/><path d="M19.6,1.6 C20.8,2.8 21.9,1.8 22.4,0.2 L24.7,-8.6 C25.3,-10.8 27.0,-11.5 28.4,-10.4 M22.6,-7.0 L27.0,-7.0" fill="none" stroke="#141414" stroke-width="1.25" stroke-linecap="round"/><text transform="translate(25.9,2.71) scale(1.077,1)" font-size="9.17" font-style="italic" fill="#141414" stroke="#141414" stroke-width="0.12">c</text><text transform="translate(29.28,-6.8) scale(0.819,1)" font-size="9.77" font-style="italic" fill="#141414" stroke="#141414" stroke-width="0.12">T</text></g>
<text x="356.6" y="362.8" text-anchor="middle" font-size="15.8" fill="#141414">(e)</text>
<clipPath id="cf"><rect x="525.3" y="186.7" width="157.4" height="126.8"/></clipPath>
<rect x="525.3" y="186.7" width="157.4" height="126.8" fill="none" stroke="#b9b9b9" stroke-width="1.1"/>
<line x1="525.3" y1="284.65" x2="682.7" y2="284.65" stroke="#d4d4d4" stroke-width="0.8" stroke-dasharray="1.2 1.3"/>
<line x1="525.3" y1="255.8" x2="682.7" y2="255.8" stroke="#d4d4d4" stroke-width="0.8" stroke-dasharray="1.2 1.3"/>
<line x1="525.3" y1="226.95" x2="682.7" y2="226.95" stroke="#d4d4d4" stroke-width="0.8" stroke-dasharray="1.2 1.3"/>
<line x1="525.3" y1="198.1" x2="682.7" y2="198.1" stroke="#d4d4d4" stroke-width="0.8" stroke-dasharray="1.2 1.3"/>
<line x1="577.77" y1="186.7" x2="577.77" y2="313.5" stroke="#d4d4d4" stroke-width="0.8" stroke-dasharray="1.2 1.3"/>
<line x1="630.23" y1="186.7" x2="630.23" y2="313.5" stroke="#d4d4d4" stroke-width="0.8" stroke-dasharray="1.2 1.3"/>
<polyline points="525.3,313.5 532.65,284.65 541.04,255.8 552.58,226.95 564.65,207.33 574.88,199.25 584.06,202.37 593.51,209.99 602.43,217.72 611.87,227.07 620.79,236.18 628.66,241.61 636,247.03 645.45,254.76 654.37,262.49 663.81,269.42" fill="none" stroke="#ff0000" stroke-width="2.0" stroke-dasharray="6 2.2" stroke-linejoin="round" clip-path="url(#cf)"/>
<polyline points="525.3,313.5 531.07,284.65 537.89,255.8 546.29,226.95 552.58,224.06 559.4,217.26 568.32,208.14 576.19,201.33 579.34,201.56 585.64,203.87 591.93,208.49 597.7,217.03 605.57,224.76 613.44,233.18 620.79,242.41 628.66,250.15 634.96,256.38 639.15,260.19" fill="none" stroke="#00ee00" stroke-width="2.2" stroke-dasharray="2.2 2.8" stroke-linejoin="round" clip-path="url(#cf)"/>
<polyline points="525.3,313.5 533.69,284.65 543.14,255.8 554.68,226.95 568.32,203.64 574.88,200.06" fill="none" stroke="#0000ff" stroke-width="2.0" stroke-dasharray="9 2.5 2.2 2.5" stroke-linejoin="round" clip-path="url(#cf)"/>
<polyline points="574.88,200.06 579.34,199.25 584.06,200.06 590.36,200.06 594.56,202.37 599.28,206.99 601.9,209.29 605.57,209.29 610.3,212.29 616.07,216.22 620.79,218.53 627.09,220.83 632.33,224.76 634.96,227.87 637.05,231.68 640.73,233.99 647.02,237.8 653.32,241.61 658.57,245.53 663.29,248.65" fill="none" stroke="#0000ff" stroke-width="1.9" stroke-linejoin="round" clip-path="url(#cf)"/>
<polyline points="525.3,313.5 526.35,309.15 527.4,304.89 528.45,300.7 529.5,296.59 530.55,292.56 531.6,288.62 532.65,284.75 533.69,280.96 534.74,277.25 535.79,273.62 536.84,270.08 537.89,266.61 538.94,263.22 539.99,259.92 541.04,256.7 542.09,253.56 543.14,250.5 544.19,247.53 545.24,244.63 546.29,241.82 547.34,239.09 548.39,236.45 549.43,233.89 550.48,231.41 551.53,229.02 552.58,226.71 553.63,224.49 554.68,222.35 555.73,220.3 556.78,218.34 557.83,216.46 558.88,214.66 559.93,212.96 560.98,211.34 562.03,209.81 563.08,208.38 564.13,207.03 565.17,205.77 566.22,204.6 567.27,203.52 568.32,202.54 569.37,201.65 570.42,200.85 571.47,200.15 572.52,199.55 573.57,199.05 574.62,198.65 575.67,198.35 576.72,198.17 577.77,198.1 578.82,198.15 579.87,198.3 580.91,198.55 581.96,198.88 583.01,199.29 584.06,199.78 585.11,200.34 586.16,200.96 587.21,201.63 588.26,202.36 589.31,203.14 590.36,203.95 591.41,204.81 592.46,205.69 593.51,206.61 594.56,207.55 595.61,208.52 596.65,209.5 597.7,210.49 598.75,211.51 599.8,212.53 600.85,213.55 601.9,214.59 602.95,215.62 604,216.66 605.05,217.7 606.1,218.74 607.15,219.77 608.2,220.8 609.25,221.82 610.3,222.84 611.35,223.85 612.39,224.85 613.44,225.84 614.49,226.83 615.54,227.8 616.59,228.77 617.64,229.72 618.69,230.66 619.74,231.59 620.79,232.51 621.84,233.42 622.89,234.31 623.94,235.19 624.99,236.06 626.04,236.92 627.09,237.77 628.13,238.6 629.18,239.42 630.23,240.23 631.28,241.03 632.33,241.81 633.38,242.58 634.43,243.34 635.48,244.09 636.53,244.83 637.58,245.55 638.63,246.27 639.68,246.97 640.73,247.66 641.78,248.34 642.83,249.01 643.87,249.67 644.92,250.32 645.97,250.95 647.02,251.58 648.07,252.2 649.12,252.8 650.17,253.4 651.22,253.99 652.27,254.57 653.32,255.14 654.37,255.7 655.42,256.25 656.47,256.79 657.52,257.33 658.57,257.85 659.61,258.37 660.66,258.88 661.71,259.38 662.76,259.87 663.81,260.36 664.86,260.84 665.91,261.31 666.96,261.77 668.01,262.23 669.06,262.68 670.11,263.12 671.16,263.56 672.21,263.99 673.26,264.41 674.31,264.83 675.35,265.24 676.4,265.64 677.45,266.04 678.5,266.43 679.55,266.82 680.6,267.2 681.65,267.58 682.7,267.95" fill="none" stroke="#000000" stroke-width="1.5" stroke-linejoin="round" clip-path="url(#cf)"/>
<line x1="525.3" y1="186.2" x2="525.3" y2="314.1" stroke="#4a4a4a" stroke-width="1.2"/>
<line x1="524.7" y1="313.5" x2="683.2" y2="313.5" stroke="#4a4a4a" stroke-width="1.2"/>
<line x1="522.7" y1="313.5" x2="525.3" y2="313.5" stroke="#4a4a4a" stroke-width="1"/>
<text transform="translate(521,317.2) scale(1,1.07)" text-anchor="end" class="t">0.00</text>
<line x1="522.7" y1="284.65" x2="525.3" y2="284.65" stroke="#4a4a4a" stroke-width="1"/>
<text transform="translate(521,288.35) scale(1,1.07)" text-anchor="end" class="t">0.25</text>
<line x1="522.7" y1="255.8" x2="525.3" y2="255.8" stroke="#4a4a4a" stroke-width="1"/>
<text transform="translate(521,259.5) scale(1,1.07)" text-anchor="end" class="t">0.50</text>
<line x1="522.7" y1="226.95" x2="525.3" y2="226.95" stroke="#4a4a4a" stroke-width="1"/>
<text transform="translate(521,230.65) scale(1,1.07)" text-anchor="end" class="t">0.75</text>
<line x1="522.7" y1="198.1" x2="525.3" y2="198.1" stroke="#4a4a4a" stroke-width="1"/>
<text transform="translate(521,201.8) scale(1,1.07)" text-anchor="end" class="t">1.00</text>
<line x1="523.6" y1="299.07" x2="525.3" y2="299.07" stroke="#4a4a4a" stroke-width="1"/>
<line x1="523.6" y1="270.23" x2="525.3" y2="270.23" stroke="#4a4a4a" stroke-width="1"/>
<line x1="523.6" y1="241.38" x2="525.3" y2="241.38" stroke="#4a4a4a" stroke-width="1"/>
<line x1="523.6" y1="212.52" x2="525.3" y2="212.52" stroke="#4a4a4a" stroke-width="1"/>
<line x1="525.3" y1="313.5" x2="525.3" y2="316.1" stroke="#4a4a4a" stroke-width="1"/>
<text transform="translate(525.3,327.4) scale(1,1.07)" text-anchor="middle" class="t">0</text>
<line x1="577.77" y1="313.5" x2="577.77" y2="316.1" stroke="#4a4a4a" stroke-width="1"/>
<text transform="translate(577.77,327.4) scale(1,1.07)" text-anchor="middle" class="t">1</text>
<line x1="630.23" y1="313.5" x2="630.23" y2="316.1" stroke="#4a4a4a" stroke-width="1"/>
<text transform="translate(630.23,327.4) scale(1,1.07)" text-anchor="middle" class="t">2</text>
<line x1="682.7" y1="313.5" x2="682.7" y2="316.1" stroke="#4a4a4a" stroke-width="1"/>
<text transform="translate(682.7,327.4) scale(1,1.07)" text-anchor="middle" class="t">3</text>
<line x1="551.53" y1="313.5" x2="551.53" y2="315.2" stroke="#4a4a4a" stroke-width="1"/>
<line x1="604" y1="313.5" x2="604" y2="315.2" stroke="#4a4a4a" stroke-width="1"/>
<line x1="656.47" y1="313.5" x2="656.47" y2="315.2" stroke="#4a4a4a" stroke-width="1"/>
<rect x="559.7" y="262.2" width="75.9" height="48.2" fill="#ffffff" stroke="#c6c6c6" stroke-width="0.9"/>
<polyline points="560.4,269 582.1,269" fill="none" stroke="#ff0000" stroke-width="2.0" stroke-dasharray="9.5 8.2" stroke-linejoin="round"/>
<text transform="translate(585,272.3) scale(1,1.08)" class="lg">M2-600<tspan font-size="6.58" dy="-1.79" dx="0.66">°</tspan><tspan dy="1.79" dx="0.28">C-1</tspan></text>
<polyline points="560.4,281.3 582.1,281.3" fill="none" stroke="#00ee00" stroke-width="2.2" stroke-dasharray="2 8.5" stroke-linejoin="round"/>
<text transform="translate(585,284.6) scale(1,1.08)" class="lg">M2-600<tspan font-size="6.58" dy="-1.79" dx="0.66">°</tspan><tspan dy="1.79" dx="0.28">C-2</tspan></text>
<polyline points="560.4,293.3 582.1,293.3" fill="none" stroke="#0000ff" stroke-width="2.0" stroke-dasharray="11 5.5 2 5" stroke-linejoin="round"/>
<text transform="translate(585,296.6) scale(1,1.08)" class="lg">M2-600<tspan font-size="6.58" dy="-1.79" dx="0.66">°</tspan><tspan dy="1.79" dx="0.28">C-3</tspan></text>
<polyline points="560.4,304.9 582.1,304.9" fill="none" stroke="#000000" stroke-width="1.5" stroke-linejoin="round"/>
<text transform="translate(585,308.2) scale(1,1.08)" class="lg">Fitting curve</text>
<g transform="translate(583.7,341.4)"><path transform="translate(0,0)" d="M7.0,-6.8 C6.4,-8.0 3.6,-8.3 2.4,-6.9 C1.6,-5.9 2.2,-4.4 4.5,-4.2 M3.6,-4.2 C1.8,-4.0 0.7,-3.0 0.7,-1.7 C0.7,-0.3 2.2,0.2 3.4,-0.2 C4.4,-0.5 5.2,-1.1 5.8,-1.9" fill="none" stroke="#141414" stroke-width="1.25" stroke-linecap="round"/><line x1="8.7" y1="2.6" x2="16.5" y2="-10.2" stroke="#141414" stroke-width="1.25"/><path transform="translate(16.6,0)" d="M7.0,-6.8 C6.4,-8.0 3.6,-8.3 2.4,-6.9 C1.6,-5.9 2.2,-4.4 4.5,-4.2 M3.6,-4.2 C1.8,-4.0 0.7,-3.0 0.7,-1.7 C0.7,-0.3 2.2,0.2 3.4,-0.2 C4.4,-0.5 5.2,-1.1 5.8,-1.9" fill="none" stroke="#141414" stroke-width="1.25" stroke-linecap="round"/><text transform="translate(21.99,3.6) scale(0.996,1)" font-size="10.42" font-style="italic" fill="#141414" stroke="#141414" stroke-width="0.12">c</text><text transform="translate(24.99,-5.2) scale(0.968,1)" font-size="9.77" font-style="italic" fill="#141414" stroke="#141414" stroke-width="0.12">T</text></g>
<g transform="translate(492.9,270.4) rotate(-90)"><ellipse cx="4.4" cy="-3.9" rx="3.7" ry="3.6" fill="none" stroke="#141414" stroke-width="1.3"/><path d="M4.4,-7.5 L10.9,-7.7" fill="none" stroke="#141414" stroke-width="1.3" stroke-linecap="round"/><line x1="11.9" y1="1.9" x2="19.1" y2="-10.8" stroke="#141414" stroke-width="1.25"/><path d="M19.6,1.6 C20.8,2.8 21.9,1.8 22.4,0.2 L24.7,-8.6 C25.3,-10.8 27.0,-11.5 28.4,-10.4 M22.6,-7.0 L27.0,-7.0" fill="none" stroke="#141414" stroke-width="1.25" stroke-linecap="round"/><text transform="translate(25.9,2.71) scale(1.077,1)" font-size="9.17" font-style="italic" fill="#141414" stroke="#141414" stroke-width="0.12">c</text><text transform="translate(29.28,-6.8) scale(0.819,1)" font-size="9.77" font-style="italic" fill="#141414" stroke="#141414" stroke-width="0.12">T</text></g>
<text x="597.4" y="362.8" text-anchor="middle" font-size="15.8" fill="#141414">(f)</text>
<clipPath id="cg"><rect x="46.3" y="373.3" width="154.2" height="124.4"/></clipPath>
<rect x="46.3" y="373.3" width="154.2" height="124.4" fill="none" stroke="#b9b9b9" stroke-width="1.1"/>
<line x1="46.3" y1="469.32" x2="200.5" y2="469.32" stroke="#d4d4d4" stroke-width="0.8" stroke-dasharray="1.2 1.3"/>
<line x1="46.3" y1="440.95" x2="200.5" y2="440.95" stroke="#d4d4d4" stroke-width="0.8" stroke-dasharray="1.2 1.3"/>
<line x1="46.3" y1="412.57" x2="200.5" y2="412.57" stroke="#d4d4d4" stroke-width="0.8" stroke-dasharray="1.2 1.3"/>
<line x1="46.3" y1="384.2" x2="200.5" y2="384.2" stroke="#d4d4d4" stroke-width="0.8" stroke-dasharray="1.2 1.3"/>
<line x1="90.45" y1="373.3" x2="90.45" y2="497.7" stroke="#d4d4d4" stroke-width="0.8" stroke-dasharray="1.2 1.3"/>
<line x1="134.59" y1="373.3" x2="134.59" y2="497.7" stroke="#d4d4d4" stroke-width="0.8" stroke-dasharray="1.2 1.3"/>
<line x1="178.74" y1="373.3" x2="178.74" y2="497.7" stroke="#d4d4d4" stroke-width="0.8" stroke-dasharray="1.2 1.3"/>
<polyline points="46.3,497.7 52.48,469.32 58.66,440.95 66.61,412.57 77.2,393.28 90.45,384.2" fill="none" stroke="#ff0000" stroke-width="2.0" stroke-dasharray="7 1.5 2 1.5" stroke-linejoin="round" clip-path="url(#cg)"/>
<polyline points="46.3,497.7 53.36,469.32 59.99,440.95 68.37,412.57 75.88,395.55 90.45,384.2" fill="none" stroke="#00ee00" stroke-width="2.2" stroke-dasharray="2.2 2.8" stroke-linejoin="round" clip-path="url(#cg)"/>
<polyline points="46.3,497.7 53.8,469.32 60.87,440.95 70.58,412.57 79.41,395.55 90.45,384.2" fill="none" stroke="#0000ff" stroke-width="2.0" stroke-dasharray="9 2 2 2" stroke-linejoin="round" clip-path="url(#cg)"/>
<polyline points="90.45,384.2 94.42,388.06 97.51,391.92 100.6,389.65 105.01,387.26 109.87,385.79 112.52,386.13 115.17,390.44 118.26,392.71 121.79,394.98 126.64,397.25 131.06,398.84 137.24,400.43 142.1,402.7 146.51,406.45 151.37,409.62 157.55,411.21 165.05,412.01 168.14,412.57 171.23,412.01" fill="none" stroke="#ff0000" stroke-width="1.9" stroke-linejoin="round" clip-path="url(#cg)"/>
<polyline points="90.45,384.2 94.42,387.26 100.6,390.44 106.78,392.71 112.52,394.98 118.7,397.25 124.88,399.64 129.73,401.91 131.06,404.18 133.71,410.42 137.24,411.89 143.42,412.69 149.6,413.48 157.55,414.16 165.05,415.75 178.29,419.61 190.21,425.51 198.16,428.92" fill="none" stroke="#00ee00" stroke-width="1.9" stroke-linejoin="round" clip-path="url(#cg)"/>
<polyline points="90.45,384.2 92.65,388.06 94.86,392.71 98.83,396.46 103.69,401.23 108.1,404.18 112.08,410.42 116.05,414.16 119.58,418.02 124.88,418.82 131.06,422.68 137.24,427.33 143.42,431.87 149.6,435.84 155.78,441.18 161.96,445.83 166.38,448.33 175.65,452.53 184.03,454.8" fill="none" stroke="#0000ff" stroke-width="1.9" stroke-linejoin="round" clip-path="url(#cg)"/>
<polyline points="46.3,497.7 47.18,493.49 48.07,489.36 48.95,485.3 49.83,481.31 50.71,477.4 51.6,473.57 52.48,469.81 53.36,466.12 54.25,462.51 55.13,458.98 56.01,455.52 56.89,452.14 57.78,448.83 58.66,445.61 59.54,442.45 60.43,439.38 61.31,436.38 62.19,433.47 63.08,430.63 63.96,427.87 64.84,425.18 65.72,422.58 66.61,420.06 67.49,417.61 68.37,415.25 69.26,412.97 70.14,410.77 71.02,408.65 71.9,406.61 72.79,404.66 73.67,402.79 74.55,401 75.44,399.3 76.32,397.68 77.2,396.15 78.08,394.7 78.97,393.34 79.85,392.07 80.73,390.89 81.62,389.8 82.5,388.8 83.38,387.89 84.27,387.07 85.15,386.35 86.03,385.73 86.91,385.21 87.8,384.79 88.68,384.48 89.56,384.28 90.45,384.2 91.33,384.22 92.21,384.3 93.09,384.41 93.98,384.57 94.86,384.77 95.74,385.01 96.63,385.27 97.51,385.58 98.39,385.91 99.27,386.27 100.16,386.65 101.04,387.06 101.92,387.49 102.81,387.94 103.69,388.41 104.57,388.89 105.45,389.39 106.34,389.91 107.22,390.44 108.1,390.98 108.99,391.53 109.87,392.09 110.75,392.66 111.64,393.24 112.52,393.83 113.4,394.42 114.28,395.01 115.17,395.61 116.05,396.21 116.93,396.82 117.82,397.43 118.7,398.04 119.58,398.65 120.46,399.26 121.35,399.88 122.23,400.49 123.11,401.1 124,401.71 124.88,402.33 125.76,402.93 126.64,403.54 127.53,404.15 128.41,404.75 129.29,405.35 130.18,405.95 131.06,406.54 131.94,407.13 132.83,407.72 133.71,408.31 134.59,408.89 135.47,409.47 136.36,410.04 137.24,410.61 138.12,411.18 139.01,411.74 139.89,412.3 140.77,412.85 141.65,413.4 142.54,413.94 143.42,414.48 144.3,415.02 145.19,415.55 146.07,416.08 146.95,416.6 147.83,417.12 148.72,417.63 149.6,418.14 150.48,418.65 151.37,419.15 152.25,419.64 153.13,420.13 154.01,420.62 154.9,421.1 155.78,421.58 156.66,422.05 157.55,422.52 158.43,422.99 159.31,423.45 160.2,423.9 161.08,424.35 161.96,424.8 162.84,425.24 163.73,425.68 164.61,426.12 165.49,426.55 166.38,426.97 167.26,427.39 168.14,427.81 169.02,428.22 169.91,428.63 170.79,429.04 171.67,429.44 172.56,429.84 173.44,430.23 174.32,430.62 175.2,431.01 176.09,431.39 176.97,431.77 177.85,432.15 178.74,432.52 179.62,432.89 180.5,433.25 181.39,433.61 182.27,433.97 183.15,434.33 184.03,434.68 184.92,435.02 185.8,435.37 186.68,435.71 187.57,436.05 188.45,436.38 189.33,436.71 190.21,437.04 191.1,437.37 191.98,437.69 192.86,438.01 193.75,438.32 194.63,438.64 195.51,438.95 196.39,439.25 197.28,439.56 198.16,439.86 199.04,440.16 199.93,440.45" fill="none" stroke="#000000" stroke-width="1.5" stroke-linejoin="round" clip-path="url(#cg)"/>
<line x1="46.3" y1="372.8" x2="46.3" y2="498.3" stroke="#4a4a4a" stroke-width="1.2"/>
<line x1="45.7" y1="497.7" x2="201" y2="497.7" stroke="#4a4a4a" stroke-width="1.2"/>
<line x1="43.7" y1="497.7" x2="46.3" y2="497.7" stroke="#4a4a4a" stroke-width="1"/>
<text transform="translate(42,501.4) scale(1,1.07)" text-anchor="end" class="t">0.00</text>
<line x1="43.7" y1="469.32" x2="46.3" y2="469.32" stroke="#4a4a4a" stroke-width="1"/>
<text transform="translate(42,473.02) scale(1,1.07)" text-anchor="end" class="t">0.25</text>
<line x1="43.7" y1="440.95" x2="46.3" y2="440.95" stroke="#4a4a4a" stroke-width="1"/>
<text transform="translate(42,444.65) scale(1,1.07)" text-anchor="end" class="t">0.50</text>
<line x1="43.7" y1="412.57" x2="46.3" y2="412.57" stroke="#4a4a4a" stroke-width="1"/>
<text transform="translate(42,416.27) scale(1,1.07)" text-anchor="end" class="t">0.75</text>
<line x1="43.7" y1="384.2" x2="46.3" y2="384.2" stroke="#4a4a4a" stroke-width="1"/>
<text transform="translate(42,387.9) scale(1,1.07)" text-anchor="end" class="t">1.00</text>
<line x1="44.6" y1="483.51" x2="46.3" y2="483.51" stroke="#4a4a4a" stroke-width="1"/>
<line x1="44.6" y1="455.14" x2="46.3" y2="455.14" stroke="#4a4a4a" stroke-width="1"/>
<line x1="44.6" y1="426.76" x2="46.3" y2="426.76" stroke="#4a4a4a" stroke-width="1"/>
<line x1="44.6" y1="398.39" x2="46.3" y2="398.39" stroke="#4a4a4a" stroke-width="1"/>
<line x1="46.3" y1="497.7" x2="46.3" y2="500.3" stroke="#4a4a4a" stroke-width="1"/>
<text transform="translate(46.3,511.6) scale(1,1.07)" text-anchor="middle" class="t">0</text>
<line x1="90.45" y1="497.7" x2="90.45" y2="500.3" stroke="#4a4a4a" stroke-width="1"/>
<text transform="translate(90.45,511.6) scale(1,1.07)" text-anchor="middle" class="t">1</text>
<line x1="134.59" y1="497.7" x2="134.59" y2="500.3" stroke="#4a4a4a" stroke-width="1"/>
<text transform="translate(134.59,511.6) scale(1,1.07)" text-anchor="middle" class="t">2</text>
<line x1="178.74" y1="497.7" x2="178.74" y2="500.3" stroke="#4a4a4a" stroke-width="1"/>
<text transform="translate(178.74,511.6) scale(1,1.07)" text-anchor="middle" class="t">3</text>
<line x1="68.37" y1="497.7" x2="68.37" y2="499.4" stroke="#4a4a4a" stroke-width="1"/>
<line x1="112.52" y1="497.7" x2="112.52" y2="499.4" stroke="#4a4a4a" stroke-width="1"/>
<line x1="156.66" y1="497.7" x2="156.66" y2="499.4" stroke="#4a4a4a" stroke-width="1"/>
<line x1="200.81" y1="497.7" x2="200.81" y2="499.4" stroke="#4a4a4a" stroke-width="1"/>
<rect x="82.3" y="448.3" width="74.2" height="46.9" fill="#ffffff" stroke="#c6c6c6" stroke-width="0.9"/>
<polyline points="83.3,454.9 104.8,454.9" fill="none" stroke="#ff0000" stroke-width="2.0" stroke-dasharray="8.8 1.8 1.8 4.3 6" stroke-linejoin="round"/>
<text transform="translate(107.1,458.2) scale(1,1.08)" class="lg">M2-800<tspan font-size="6.58" dy="-1.79" dx="0.66">°</tspan><tspan dy="1.79" dx="0.28">C-1</tspan></text>
<polyline points="83.3,466.4 104.8,466.4" fill="none" stroke="#00ee00" stroke-width="2.2" stroke-dasharray="2 8.5" stroke-linejoin="round"/>
<text transform="translate(107.1,469.7) scale(1,1.08)" class="lg">M2-800<tspan font-size="6.58" dy="-1.79" dx="0.66">°</tspan><tspan dy="1.79" dx="0.28">C-2</tspan></text>
<polyline points="83.3,477.7 104.8,477.7" fill="none" stroke="#0000ff" stroke-width="2.0" stroke-dasharray="10.5 1 1.5 3 2.5" stroke-linejoin="round"/>
<text transform="translate(107.1,481) scale(1,1.08)" class="lg">M2-800<tspan font-size="6.58" dy="-1.79" dx="0.66">°</tspan><tspan dy="1.79" dx="0.28">C-3</tspan></text>
<polyline points="83.3,489.1 104.8,489.1" fill="none" stroke="#000000" stroke-width="1.5" stroke-linejoin="round"/>
<text transform="translate(107.1,492.4) scale(1,1.08)" class="lg">Fitting curve</text>
<g transform="translate(100.4,528.9)"><path transform="translate(0,0)" d="M7.0,-6.8 C6.4,-8.0 3.6,-8.3 2.4,-6.9 C1.6,-5.9 2.2,-4.4 4.5,-4.2 M3.6,-4.2 C1.8,-4.0 0.7,-3.0 0.7,-1.7 C0.7,-0.3 2.2,0.2 3.4,-0.2 C4.4,-0.5 5.2,-1.1 5.8,-1.9" fill="none" stroke="#141414" stroke-width="1.25" stroke-linecap="round"/><line x1="8.7" y1="2.6" x2="16.5" y2="-10.2" stroke="#141414" stroke-width="1.25"/><path transform="translate(16.6,0)" d="M7.0,-6.8 C6.4,-8.0 3.6,-8.3 2.4,-6.9 C1.6,-5.9 2.2,-4.4 4.5,-4.2 M3.6,-4.2 C1.8,-4.0 0.7,-3.0 0.7,-1.7 C0.7,-0.3 2.2,0.2 3.4,-0.2 C4.4,-0.5 5.2,-1.1 5.8,-1.9" fill="none" stroke="#141414" stroke-width="1.25" stroke-linecap="round"/><text transform="translate(21.99,3.6) scale(0.996,1)" font-size="10.42" font-style="italic" fill="#141414" stroke="#141414" stroke-width="0.12">c</text><text transform="translate(24.99,-5.2) scale(0.968,1)" font-size="9.77" font-style="italic" fill="#141414" stroke="#141414" stroke-width="0.12">T</text></g>
<g transform="translate(14,455.9) rotate(-90)"><ellipse cx="4.4" cy="-3.9" rx="3.7" ry="3.6" fill="none" stroke="#141414" stroke-width="1.3"/><path d="M4.4,-7.5 L10.9,-7.7" fill="none" stroke="#141414" stroke-width="1.3" stroke-linecap="round"/><line x1="11.9" y1="1.9" x2="19.1" y2="-10.8" stroke="#141414" stroke-width="1.25"/><path d="M19.6,1.6 C20.8,2.8 21.9,1.8 22.4,0.2 L24.7,-8.6 C25.3,-10.8 27.0,-11.5 28.4,-10.4 M22.6,-7.0 L27.0,-7.0" fill="none" stroke="#141414" stroke-width="1.25" stroke-linecap="round"/><text transform="translate(25.9,2.71) scale(1.077,1)" font-size="9.17" font-style="italic" fill="#141414" stroke="#141414" stroke-width="0.12">c</text><text transform="translate(29.28,-6.8) scale(0.819,1)" font-size="9.77" font-style="italic" fill="#141414" stroke="#141414" stroke-width="0.12">T</text></g>
<text x="114.9" y="549.8" text-anchor="middle" font-size="15.8" fill="#141414">(g)</text>
<clipPath id="ch"><rect x="279" y="373.1" width="157.3" height="126"/></clipPath>
<rect x="279" y="373.1" width="157.3" height="126" fill="none" stroke="#b9b9b9" stroke-width="1.1"/>
<line x1="279" y1="476.12" x2="436.3" y2="476.12" stroke="#d4d4d4" stroke-width="0.8" stroke-dasharray="1.2 1.3"/>
<line x1="279" y1="453.14" x2="436.3" y2="453.14" stroke="#d4d4d4" stroke-width="0.8" stroke-dasharray="1.2 1.3"/>
<line x1="279" y1="430.16" x2="436.3" y2="430.16" stroke="#d4d4d4" stroke-width="0.8" stroke-dasharray="1.2 1.3"/>
<line x1="279" y1="407.18" x2="436.3" y2="407.18" stroke="#d4d4d4" stroke-width="0.8" stroke-dasharray="1.2 1.3"/>
<line x1="279" y1="384.2" x2="436.3" y2="384.2" stroke="#d4d4d4" stroke-width="0.8" stroke-dasharray="1.2 1.3"/>
<line x1="314.1" y1="373.1" x2="314.1" y2="499.1" stroke="#d4d4d4" stroke-width="0.8" stroke-dasharray="1.2 1.3"/>
<line x1="349.2" y1="373.1" x2="349.2" y2="499.1" stroke="#d4d4d4" stroke-width="0.8" stroke-dasharray="1.2 1.3"/>
<line x1="384.3" y1="373.1" x2="384.3" y2="499.1" stroke="#d4d4d4" stroke-width="0.8" stroke-dasharray="1.2 1.3"/>
<line x1="419.4" y1="373.1" x2="419.4" y2="499.1" stroke="#d4d4d4" stroke-width="0.8" stroke-dasharray="1.2 1.3"/>
<polyline points="278.9,498.4 286.4,459.5 294.7,412.4 300.6,389.5 303.2,385.3 306.3,383.6 311.2,384.6 319.4,388.9 327.7,393.6 335.9,399.5 343,403.7 351.2,408.2 359.5,412.9 367.7,417.1 376,421.4 384.2,425.4 392.5,428.4 400,431.5 412,436" fill="none" stroke="#808080" stroke-width="2.5" stroke-linejoin="round" clip-path="url(#ch)"/>
<polyline points="278.9,498.4 285.2,459.5 293.5,417.1 299.4,397.1 302.9,390.7 311.2,390 319.4,393.6 327.7,400.2 335.9,405.8 343,411.2 351.2,417.1 359.5,421.8 367.7,426.5 376,430.8 384.2,434.8 392.5,438.3 399.5,441.9 409,444.9" fill="none" stroke="#b266ff" stroke-width="2.0" stroke-dasharray="8 2.5 2 2.5" stroke-linejoin="round" clip-path="url(#ch)"/>
<polyline points="278.9,498.4 286.4,457.2 294.7,419.5 300.6,398.3 305.3,395.9 311.2,395.9 319.4,403 327.7,408.9 334.7,414.8 343,420.7 351.2,426.6 359.5,431.3 367.7,436 376,440.2 384.2,444.9 392.5,447.8 400.7,450.1 409,452.5" fill="none" stroke="#00ffff" stroke-width="2.2" stroke-dasharray="2 3" stroke-linejoin="round" clip-path="url(#ch)"/>
<polyline points="278.9,498.4 288.8,459.5 299.4,424.2 306.5,405.3 311.2,400.6 315.9,401.8 324.1,405.3 331.2,407.7 339.4,413.6 347.7,419.5 359.5,426.6 371.3,433.6 383,439.5 394.8,444.9 406.6,448.9 418.4,452.5 430.2,455.3 437,457.2" fill="none" stroke="#ff0000" stroke-width="2.2" stroke-dasharray="8 2.5 2 2.5" stroke-linejoin="round" clip-path="url(#ch)"/>
<polyline points="278.9,498.4 286.4,483.1 293.5,466.6 300.6,450.1 307.6,438.3 314.7,430.1 323,428.4 330,429.4 338.3,432.4 347.7,437.2 359.5,441.9 371.3,445.9 383,450.1 394.8,454.4 406.6,457.7 418.4,460.7 430.2,463.8 437,465.4" fill="none" stroke="#008000" stroke-width="2.2" stroke-dasharray="8 2.5 2 2.5" stroke-linejoin="round" clip-path="url(#ch)"/>
<polyline points="278.9,498.4 286.4,493.7 295.9,489 305.3,484.3 314.7,479.6 324.1,477.2 333.5,476 343,475.6 352.4,476 361.8,477.2 371.3,478.4 383,479.6 394.8,480.7 406.6,481.9 418.4,483.1 430.2,484.3 437,485" fill="none" stroke="#ff8000" stroke-width="2.0" stroke-dasharray="5 2.5" stroke-linejoin="round" clip-path="url(#ch)"/>
<polyline points="278.9,498.4 288.8,497.2 300.6,495.6 312.3,494.2 324.1,493 335.9,492.3 347.7,491.8 359.5,491.8 371.3,492.1 383,492.3 394.8,492.5 406.6,492.8 418.4,493 430.2,493.5 437,493.7" fill="none" stroke="#0000ff" stroke-width="2.2" stroke-dasharray="2 2.2" stroke-linejoin="round" clip-path="url(#ch)"/>
<circle cx="286.5" cy="458.93" r="1.75" fill="#fff" stroke="#808080" stroke-width="0.7"/>
<circle cx="294.6" cy="412.97" r="1.75" fill="#fff" stroke="#808080" stroke-width="0.7"/>
<circle cx="302.7" cy="386.11" r="1.75" fill="#fff" stroke="#808080" stroke-width="0.7"/>
<circle cx="310.8" cy="384.52" r="1.75" fill="#fff" stroke="#808080" stroke-width="0.7"/>
<circle cx="318.9" cy="388.64" r="1.75" fill="#fff" stroke="#808080" stroke-width="0.7"/>
<circle cx="327" cy="393.2" r="1.75" fill="#fff" stroke="#808080" stroke-width="0.7"/>
<circle cx="335.1" cy="398.92" r="1.75" fill="#fff" stroke="#808080" stroke-width="0.7"/>
<circle cx="343.2" cy="403.81" r="1.75" fill="#fff" stroke="#808080" stroke-width="0.7"/>
<circle cx="351.3" cy="408.26" r="1.75" fill="#fff" stroke="#808080" stroke-width="0.7"/>
<circle cx="359.4" cy="412.84" r="1.75" fill="#fff" stroke="#808080" stroke-width="0.7"/>
<circle cx="367.5" cy="417" r="1.75" fill="#fff" stroke="#808080" stroke-width="0.7"/>
<circle cx="375.6" cy="421.19" r="1.75" fill="#fff" stroke="#808080" stroke-width="0.7"/>
<circle cx="383.7" cy="425.16" r="1.75" fill="#fff" stroke="#808080" stroke-width="0.7"/>
<circle cx="391.8" cy="428.15" r="1.75" fill="#fff" stroke="#808080" stroke-width="0.7"/>
<circle cx="286.8" cy="451.33" r="1.75" fill="#fff" stroke="#b266ff" stroke-width="0.7"/>
<circle cx="294.85" cy="412.52" r="1.75" fill="#fff" stroke="#b266ff" stroke-width="0.7"/>
<circle cx="302.9" cy="390.7" r="1.75" fill="#fff" stroke="#b266ff" stroke-width="0.7"/>
<circle cx="310.95" cy="390.02" r="1.75" fill="#fff" stroke="#b266ff" stroke-width="0.7"/>
<circle cx="319" cy="393.42" r="1.75" fill="#fff" stroke="#b266ff" stroke-width="0.7"/>
<circle cx="327.05" cy="399.68" r="1.75" fill="#fff" stroke="#b266ff" stroke-width="0.7"/>
<circle cx="335.1" cy="405.25" r="1.75" fill="#fff" stroke="#b266ff" stroke-width="0.7"/>
<circle cx="343.15" cy="411.31" r="1.75" fill="#fff" stroke="#b266ff" stroke-width="0.7"/>
<circle cx="351.2" cy="417.1" r="1.75" fill="#fff" stroke="#b266ff" stroke-width="0.7"/>
<circle cx="359.25" cy="421.66" r="1.75" fill="#fff" stroke="#b266ff" stroke-width="0.7"/>
<circle cx="367.3" cy="426.27" r="1.75" fill="#fff" stroke="#b266ff" stroke-width="0.7"/>
<circle cx="375.35" cy="430.46" r="1.75" fill="#fff" stroke="#b266ff" stroke-width="0.7"/>
<circle cx="383.4" cy="434.41" r="1.75" fill="#fff" stroke="#b266ff" stroke-width="0.7"/>
<circle cx="391.45" cy="437.86" r="1.75" fill="#fff" stroke="#b266ff" stroke-width="0.7"/>
<circle cx="407.55" cy="444.44" r="1.75" fill="#fff" stroke="#b266ff" stroke-width="0.7"/>
<polygon points="287.5,450.4 285.7,453.5 289.3,453.5" fill="#fff" stroke="#00ffff" stroke-width="0.7"/>
<polygon points="295.6,414.47 293.8,417.57 297.4,417.57" fill="#fff" stroke="#00ffff" stroke-width="0.7"/>
<polygon points="303.7,394.92 301.9,398.02 305.5,398.02" fill="#fff" stroke="#00ffff" stroke-width="0.7"/>
<polygon points="311.8,394.62 310,397.72 313.6,397.72" fill="#fff" stroke="#00ffff" stroke-width="0.7"/>
<polygon points="319.9,401.56 318.1,404.66 321.7,404.66" fill="#fff" stroke="#00ffff" stroke-width="0.7"/>
<polygon points="328,407.35 326.2,410.45 329.8,410.45" fill="#fff" stroke="#00ffff" stroke-width="0.7"/>
<polygon points="336.1,414 334.3,417.1 337.9,417.1" fill="#fff" stroke="#00ffff" stroke-width="0.7"/>
<polygon points="344.2,419.76 342.4,422.86 346,422.86" fill="#fff" stroke="#00ffff" stroke-width="0.7"/>
<polygon points="352.3,425.42 350.5,428.52 354.1,428.52" fill="#fff" stroke="#00ffff" stroke-width="0.7"/>
<polygon points="360.4,430.02 358.6,433.12 362.2,433.12" fill="#fff" stroke="#00ffff" stroke-width="0.7"/>
<polygon points="368.5,434.6 366.7,437.7 370.3,437.7" fill="#fff" stroke="#00ffff" stroke-width="0.7"/>
<polygon points="376.6,438.74 374.8,441.84 378.4,441.84" fill="#fff" stroke="#00ffff" stroke-width="0.7"/>
<polygon points="384.7,443.27 382.9,446.37 386.5,446.37" fill="#fff" stroke="#00ffff" stroke-width="0.7"/>
<polygon points="392.8,446.08 391,449.18 394.6,449.18" fill="#fff" stroke="#00ffff" stroke-width="0.7"/>
<polygon points="400.9,448.36 399.1,451.46 402.7,451.46" fill="#fff" stroke="#00ffff" stroke-width="0.7"/>
<circle cx="289.3" cy="457.83" r="1.75" fill="#fff" stroke="#ff0000" stroke-width="0.7"/>
<circle cx="299.65" cy="423.53" r="1.75" fill="#fff" stroke="#ff0000" stroke-width="0.7"/>
<circle cx="310" cy="401.8" r="1.75" fill="#fff" stroke="#ff0000" stroke-width="0.7"/>
<circle cx="320.35" cy="403.7" r="1.75" fill="#fff" stroke="#ff0000" stroke-width="0.7"/>
<circle cx="330.7" cy="407.53" r="1.75" fill="#fff" stroke="#ff0000" stroke-width="0.7"/>
<circle cx="341.05" cy="414.77" r="1.75" fill="#fff" stroke="#ff0000" stroke-width="0.7"/>
<circle cx="351.4" cy="421.73" r="1.75" fill="#fff" stroke="#ff0000" stroke-width="0.7"/>
<circle cx="361.75" cy="427.93" r="1.75" fill="#fff" stroke="#ff0000" stroke-width="0.7"/>
<circle cx="372.1" cy="434" r="1.75" fill="#fff" stroke="#ff0000" stroke-width="0.7"/>
<circle cx="382.45" cy="439.22" r="1.75" fill="#fff" stroke="#ff0000" stroke-width="0.7"/>
<circle cx="392.8" cy="443.98" r="1.75" fill="#fff" stroke="#ff0000" stroke-width="0.7"/>
<circle cx="403.15" cy="447.73" r="1.75" fill="#fff" stroke="#ff0000" stroke-width="0.7"/>
<circle cx="413.5" cy="451.01" r="1.75" fill="#fff" stroke="#ff0000" stroke-width="0.7"/>
<circle cx="423.85" cy="453.79" r="1.75" fill="#fff" stroke="#ff0000" stroke-width="0.7"/>
<circle cx="434.2" cy="456.42" r="1.75" fill="#fff" stroke="#ff0000" stroke-width="0.7"/>
<polygon points="288.5,480.02 286.7,476.92 290.3,476.92" fill="#fff" stroke="#008000" stroke-width="0.7"/>
<polygon points="300.6,451.9 298.8,448.8 302.4,448.8" fill="#fff" stroke="#008000" stroke-width="0.7"/>
<polygon points="314.7,431.9 312.9,428.8 316.5,428.8" fill="#fff" stroke="#008000" stroke-width="0.7"/>
<polygon points="330,431.2 328.2,428.1 331.8,428.1" fill="#fff" stroke="#008000" stroke-width="0.7"/>
<polygon points="346.5,438.39 344.7,435.29 348.3,435.29" fill="#fff" stroke="#008000" stroke-width="0.7"/>
<polygon points="364.2,445.29 362.4,442.19 366,442.19" fill="#fff" stroke="#008000" stroke-width="0.7"/>
<polygon points="380.7,451.07 378.9,447.97 382.5,447.97" fill="#fff" stroke="#008000" stroke-width="0.7"/>
<polygon points="397.2,456.87 395.4,453.77 399,453.77" fill="#fff" stroke="#008000" stroke-width="0.7"/>
<polygon points="413.7,461.31 411.9,458.21 415.5,458.21" fill="#fff" stroke="#008000" stroke-width="0.7"/>
<polygon points="430.2,465.6 428.4,462.5 432,462.5" fill="#fff" stroke="#008000" stroke-width="0.7"/>
<circle cx="296.8" cy="488.55" r="1.75" fill="#fff" stroke="#ff8000" stroke-width="0.7"/>
<circle cx="314.35" cy="479.77" r="1.75" fill="#fff" stroke="#ff8000" stroke-width="0.7"/>
<circle cx="331.9" cy="476.2" r="1.75" fill="#fff" stroke="#ff8000" stroke-width="0.7"/>
<circle cx="349.45" cy="475.87" r="1.75" fill="#fff" stroke="#ff8000" stroke-width="0.7"/>
<circle cx="367" cy="477.86" r="1.75" fill="#fff" stroke="#ff8000" stroke-width="0.7"/>
<circle cx="384.55" cy="479.74" r="1.75" fill="#fff" stroke="#ff8000" stroke-width="0.7"/>
<circle cx="402.1" cy="481.44" r="1.75" fill="#fff" stroke="#ff8000" stroke-width="0.7"/>
<circle cx="419.65" cy="483.23" r="1.75" fill="#fff" stroke="#ff8000" stroke-width="0.7"/>
<circle cx="301.2" cy="495.53" r="1.3" fill="#0000ff"/>
<circle cx="323.1" cy="493.1" r="1.3" fill="#0000ff"/>
<circle cx="345" cy="491.91" r="1.3" fill="#0000ff"/>
<circle cx="366.9" cy="491.99" r="1.3" fill="#0000ff"/>
<circle cx="388.8" cy="492.4" r="1.3" fill="#0000ff"/>
<circle cx="410.7" cy="492.87" r="1.3" fill="#0000ff"/>
<circle cx="432.6" cy="493.57" r="1.3" fill="#0000ff"/>
<line x1="279" y1="372.6" x2="279" y2="499.7" stroke="#4a4a4a" stroke-width="1.2"/>
<line x1="278.4" y1="499.1" x2="436.8" y2="499.1" stroke="#4a4a4a" stroke-width="1.2"/>
<line x1="276.4" y1="499.1" x2="279" y2="499.1" stroke="#4a4a4a" stroke-width="1"/>
<text transform="translate(274.7,502.8) scale(1,1.07)" text-anchor="end" class="t">0</text>
<line x1="276.4" y1="476.12" x2="279" y2="476.12" stroke="#4a4a4a" stroke-width="1"/>
<text transform="translate(274.7,479.82) scale(1,1.07)" text-anchor="end" class="t">1</text>
<line x1="276.4" y1="453.14" x2="279" y2="453.14" stroke="#4a4a4a" stroke-width="1"/>
<text transform="translate(274.7,456.84) scale(1,1.07)" text-anchor="end" class="t">2</text>
<line x1="276.4" y1="430.16" x2="279" y2="430.16" stroke="#4a4a4a" stroke-width="1"/>
<text transform="translate(274.7,433.86) scale(1,1.07)" text-anchor="end" class="t">3</text>
<line x1="276.4" y1="407.18" x2="279" y2="407.18" stroke="#4a4a4a" stroke-width="1"/>
<text transform="translate(274.7,410.88) scale(1,1.07)" text-anchor="end" class="t">4</text>
<line x1="276.4" y1="384.2" x2="279" y2="384.2" stroke="#4a4a4a" stroke-width="1"/>
<text transform="translate(274.7,387.9) scale(1,1.07)" text-anchor="end" class="t">5</text>
<line x1="277.3" y1="487.61" x2="279" y2="487.61" stroke="#4a4a4a" stroke-width="1"/>
<line x1="277.3" y1="464.63" x2="279" y2="464.63" stroke="#4a4a4a" stroke-width="1"/>
<line x1="277.3" y1="441.65" x2="279" y2="441.65" stroke="#4a4a4a" stroke-width="1"/>
<line x1="277.3" y1="418.67" x2="279" y2="418.67" stroke="#4a4a4a" stroke-width="1"/>
<line x1="277.3" y1="395.69" x2="279" y2="395.69" stroke="#4a4a4a" stroke-width="1"/>
<line x1="277.3" y1="372.71" x2="279" y2="372.71" stroke="#4a4a4a" stroke-width="1"/>
<line x1="279" y1="499.1" x2="279" y2="501.7" stroke="#4a4a4a" stroke-width="1"/>
<text transform="translate(279,513) scale(1,1.07)" text-anchor="middle" class="t">0.000</text>
<line x1="314.1" y1="499.1" x2="314.1" y2="501.7" stroke="#4a4a4a" stroke-width="1"/>
<text transform="translate(314.1,513) scale(1,1.07)" text-anchor="middle" class="t">0.005</text>
<line x1="349.2" y1="499.1" x2="349.2" y2="501.7" stroke="#4a4a4a" stroke-width="1"/>
<text transform="translate(349.2,513) scale(1,1.07)" text-anchor="middle" class="t">0.010</text>
<line x1="384.3" y1="499.1" x2="384.3" y2="501.7" stroke="#4a4a4a" stroke-width="1"/>
<text transform="translate(384.3,513) scale(1,1.07)" text-anchor="middle" class="t">0.015</text>
<line x1="419.4" y1="499.1" x2="419.4" y2="501.7" stroke="#4a4a4a" stroke-width="1"/>
<text transform="translate(419.4,513) scale(1,1.07)" text-anchor="middle" class="t">0.020</text>
<line x1="296.55" y1="499.1" x2="296.55" y2="500.8" stroke="#4a4a4a" stroke-width="1"/>
<line x1="331.65" y1="499.1" x2="331.65" y2="500.8" stroke="#4a4a4a" stroke-width="1"/>
<line x1="366.75" y1="499.1" x2="366.75" y2="500.8" stroke="#4a4a4a" stroke-width="1"/>
<line x1="401.85" y1="499.1" x2="401.85" y2="500.8" stroke="#4a4a4a" stroke-width="1"/>
<rect x="393.3" y="374" width="43" height="68.1" fill="#ffffff" stroke="#c6c6c6" stroke-width="0.9"/>
<polyline points="394,380.2 413.1,380.2" fill="none" stroke="#808080" stroke-width="2.5" stroke-linejoin="round"/>
<circle cx="403.4" cy="380.2" r="1.75" fill="#fff" stroke="#808080" stroke-width="0.7"/>
<text transform="translate(414.5,382.8) scale(1,1.08)" font-size="7.5" fill="#1e1e1e">20<tspan font-size="5.25" dy="-1.43" dx="0.53">°</tspan><tspan dy="1.43" dx="0.22">C</tspan></text>
<polyline points="394,389.6 413.1,389.6" fill="none" stroke="#b266ff" stroke-width="2.0" stroke-dasharray="10 6.5 2 6" stroke-linejoin="round"/>
<circle cx="403.4" cy="389.6" r="1.75" fill="#fff" stroke="#b266ff" stroke-width="0.7"/>
<text transform="translate(414.5,392.2) scale(1,1.08)" font-size="7.5" fill="#1e1e1e">100<tspan font-size="5.25" dy="-1.43" dx="0.53">°</tspan><tspan dy="1.43" dx="0.22">C</tspan></text>
<polyline points="394,399.1 413.1,399.1" fill="none" stroke="#00ffff" stroke-width="2.2" stroke-dasharray="2 6" stroke-linejoin="round"/>
<polygon points="403.4,397.3 401.6,400.4 405.2,400.4" fill="#fff" stroke="#00ffff" stroke-width="0.7"/>
<text transform="translate(414.5,401.7) scale(1,1.08)" font-size="7.5" fill="#1e1e1e">200<tspan font-size="5.25" dy="-1.43" dx="0.53">°</tspan><tspan dy="1.43" dx="0.22">C</tspan></text>
<polyline points="394,408.6 413.1,408.6" fill="none" stroke="#ff0000" stroke-width="2.2" stroke-dasharray="10 5 3 5" stroke-linejoin="round"/>
<circle cx="403.4" cy="408.6" r="1.75" fill="#fff" stroke="#ff0000" stroke-width="0.7"/>
<text transform="translate(414.5,411.2) scale(1,1.08)" font-size="7.5" fill="#1e1e1e">300<tspan font-size="5.25" dy="-1.43" dx="0.53">°</tspan><tspan dy="1.43" dx="0.22">C</tspan></text>
<polyline points="394,418.3 413.1,418.3" fill="none" stroke="#008000" stroke-width="2.2" stroke-dasharray="10 3 2 6" stroke-linejoin="round"/>
<polygon points="403.4,420.1 401.6,417 405.2,417" fill="#fff" stroke="#008000" stroke-width="0.7"/>
<text transform="translate(414.5,420.9) scale(1,1.08)" font-size="7.5" fill="#1e1e1e">400<tspan font-size="5.25" dy="-1.43" dx="0.53">°</tspan><tspan dy="1.43" dx="0.22">C</tspan></text>
<polyline points="394,427.8 413.1,427.8" fill="none" stroke="#ff8000" stroke-width="2.0" stroke-dasharray="5 4" stroke-linejoin="round"/>
<circle cx="403.4" cy="427.8" r="1.75" fill="#fff" stroke="#ff8000" stroke-width="0.7"/>
<text transform="translate(414.5,430.4) scale(1,1.08)" font-size="7.5" fill="#1e1e1e">600<tspan font-size="5.25" dy="-1.43" dx="0.53">°</tspan><tspan dy="1.43" dx="0.22">C</tspan></text>
<polyline points="394,437.1 413.1,437.1" fill="none" stroke="#0000ff" stroke-width="2.2" stroke-dasharray="2 2" stroke-linejoin="round"/>
<circle cx="403.4" cy="437.1" r="1.3" fill="#0000ff"/>
<text transform="translate(414.5,439.7) scale(1,1.08)" font-size="7.5" fill="#1e1e1e">800<tspan font-size="5.25" dy="-1.43" dx="0.53">°</tspan><tspan dy="1.43" dx="0.22">C</tspan></text>
<text x="338.4" y="529.2" font-size="13.9" fill="#141414">Strain</text>
<text transform="translate(261.5,479.0) rotate(-90)" font-size="14" fill="#141414">Stress (MPa)</text>
<text x="356.2" y="551.5" text-anchor="middle" font-size="15.8" fill="#141414">(h)</text>
</svg>
</body></html>
